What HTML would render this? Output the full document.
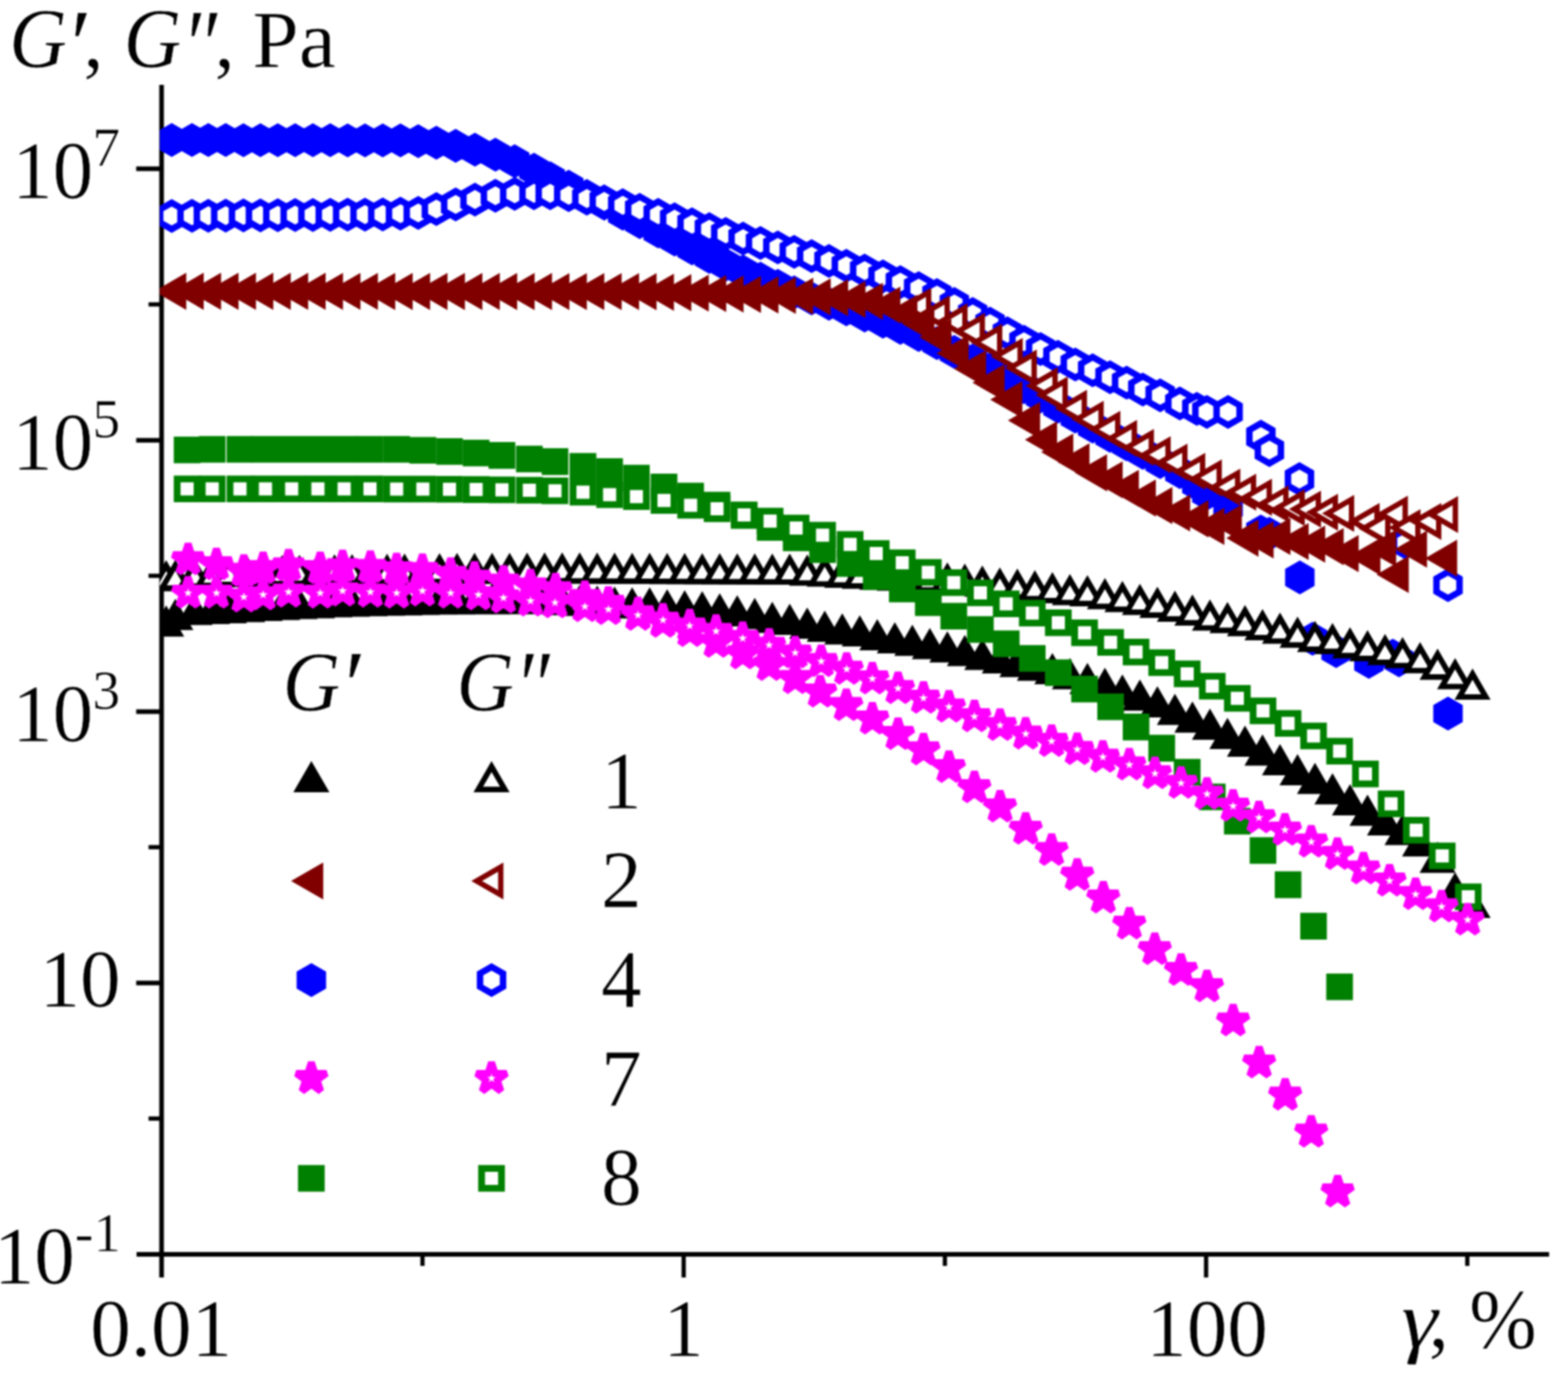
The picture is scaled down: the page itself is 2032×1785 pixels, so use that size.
<!DOCTYPE html>
<html lang="en"><head><meta charset="utf-8"><title>G′, G″ vs γ</title>
<style>
html,body{margin:0;padding:0;background:#fff;}
svg{display:block;filter:blur(1px);}
text{font-family:"Liberation Serif","Times New Roman",serif;fill:#000;stroke:#fff;stroke-width:0.6px;}
.i{font-style:italic;}
</style></head>
<body>
<svg xmlns="http://www.w3.org/2000/svg" width="2032" height="1785" viewBox="0 0 2032 1785">
<rect width="2032" height="1785" fill="#fff"/>
<g stroke="#000" fill="none">
<line x1="209.4" y1="110" x2="209.4" y2="1656" stroke-width="6"/>
<line x1="177" y1="1626" x2="2007.5" y2="1626" stroke-width="6"/>
<line x1="176.5" y1="218.7" x2="209" y2="218.7" stroke-width="6"/>
<line x1="176.5" y1="570.7" x2="209" y2="570.7" stroke-width="6"/>
<line x1="176.5" y1="922.5" x2="209" y2="922.5" stroke-width="6"/>
<line x1="176.5" y1="1274.3" x2="209" y2="1274.3" stroke-width="6"/>
<line x1="192.5" y1="394.6" x2="209" y2="394.6" stroke-width="5.5"/>
<line x1="192.5" y1="746.4" x2="209" y2="746.4" stroke-width="5.5"/>
<line x1="192.5" y1="1098.2" x2="209" y2="1098.2" stroke-width="5.5"/>
<line x1="192.5" y1="1450" x2="209" y2="1450" stroke-width="5.5"/>
<line x1="886" y1="1626" x2="886" y2="1656" stroke-width="5.5"/>
<line x1="1563" y1="1626" x2="1563" y2="1656" stroke-width="5.5"/>
<line x1="547.5" y1="1626" x2="547.5" y2="1641" stroke-width="5.5"/>
<line x1="1224.5" y1="1626" x2="1224.5" y2="1641" stroke-width="5.5"/>
<line x1="1901.5" y1="1626" x2="1901.5" y2="1641" stroke-width="5.5"/>
</g>
<clipPath id="c"><rect x="207.2" y="100" width="1825" height="1523"/></clipPath>
<g clip-path="url(#c)">
<g><polygon points="222.5,159.5 241.6,170.5 241.6,192.5 222.5,203.5 203.4,192.5 203.4,170.5" fill="#0000ff"/><polygon points="248.8,159.5 267.8,170.5 267.8,192.5 248.8,203.5 229.7,192.5 229.7,170.5" fill="#0000ff"/><polygon points="270,159.6 289.1,170.6 289.1,192.6 270,203.6 250.9,192.6 250.9,170.6" fill="#0000ff"/><polygon points="292.5,159.6 311.6,170.6 311.6,192.6 292.5,203.6 273.4,192.6 273.4,170.6" fill="#0000ff"/><polygon points="315.5,159.7 334.6,170.7 334.6,192.7 315.5,203.7 296.4,192.7 296.4,170.7" fill="#0000ff"/><polygon points="337.5,159.7 356.6,170.7 356.6,192.7 337.5,203.7 318.4,192.7 318.4,170.7" fill="#0000ff"/><polygon points="360,159.7 379.1,170.7 379.1,192.7 360,203.7 340.9,192.7 340.9,170.7" fill="#0000ff"/><polygon points="382.5,159.8 401.6,170.8 401.6,192.8 382.5,203.8 363.4,192.8 363.4,170.8" fill="#0000ff"/><polygon points="405.5,159.8 424.6,170.8 424.6,192.8 405.5,203.8 386.4,192.8 386.4,170.8" fill="#0000ff"/><polygon points="428,159.8 447.1,170.8 447.1,192.8 428,203.8 408.9,192.8 408.9,170.8" fill="#0000ff"/><polygon points="450.5,159.9 469.6,170.9 469.6,192.9 450.5,203.9 431.4,192.9 431.4,170.9" fill="#0000ff"/><polygon points="473,159.9 492.1,170.9 492.1,192.9 473,203.9 453.9,192.9 453.9,170.9" fill="#0000ff"/><polygon points="496,160 515.1,171 515.1,193 496,204 476.9,193 476.9,171" fill="#0000ff"/><polygon points="519,160 538.1,171 538.1,193 519,204 499.9,193 499.9,171" fill="#0000ff"/><polygon points="542,161 561.1,172 561.1,194 542,205 522.9,194 522.9,172" fill="#0000ff"/><polygon points="565.5,163 584.6,174 584.6,196 565.5,207 546.4,196 546.4,174" fill="#0000ff"/><polygon points="590.5,167 609.6,178 609.6,200 590.5,211 571.4,200 571.4,178" fill="#0000ff"/><polygon points="615.5,172 634.6,183 634.6,205 615.5,216 596.4,205 596.4,183" fill="#0000ff"/><polygon points="642,178.5 661.1,189.5 661.1,211.5 642,222.5 622.9,211.5 622.9,189.5" fill="#0000ff"/><polygon points="667,187 686.1,198 686.1,220 667,231 647.9,220 647.9,198" fill="#0000ff"/><polygon points="692,198 711.1,209 711.1,231 692,242 672.9,231 672.9,209" fill="#0000ff"/><polygon points="713,209 732.1,220 732.1,242 713,253 693.9,242 693.9,220" fill="#0000ff"/><polygon points="737,220 756.1,231 756.1,253 737,264 717.9,253 717.9,231" fill="#0000ff"/><polygon points="760.5,232 779.6,243 779.6,265 760.5,276 741.4,265 741.4,243" fill="#0000ff"/><polygon points="783,242 802.1,253 802.1,275 783,286 763.9,275 763.9,253" fill="#0000ff"/><polygon points="807,255 826.1,266 826.1,288 807,299 787.9,288 787.9,266" fill="#0000ff"/><polygon points="829,266 848.1,277 848.1,299 829,310 809.9,299 809.9,277" fill="#0000ff"/><polygon points="853,278 872.1,289 872.1,311 853,322 833.9,311 833.9,289" fill="#0000ff"/><polygon points="874.2,288.6 893.3,299.6 893.3,321.6 874.2,332.6 855.2,321.6 855.2,299.6" fill="#0000ff"/><polygon points="896.8,299.9 915.8,310.9 915.8,332.9 896.8,343.9 877.7,332.9 877.7,310.9" fill="#0000ff"/><polygon points="919.2,311.1 938.3,322.1 938.3,344.1 919.2,355.1 900.2,344.1 900.2,322.1" fill="#0000ff"/><polygon points="940.5,321 959.6,332 959.6,354 940.5,365 921.4,354 921.4,332" fill="#0000ff"/><polygon points="963,330.1 982.1,341.1 982.1,363.1 963,374.1 943.9,363.1 943.9,341.1" fill="#0000ff"/><polygon points="985.5,339.2 1004.6,350.2 1004.6,372.2 985.5,383.2 966.4,372.2 966.4,350.2" fill="#0000ff"/><polygon points="1008,348.4 1027.1,359.4 1027.1,381.4 1008,392.4 988.9,381.4 988.9,359.4" fill="#0000ff"/><polygon points="1029.2,357 1048.3,368 1048.3,390 1029.2,401 1010.2,390 1010.2,368" fill="#0000ff"/><polygon points="1051.8,364.8 1070.8,375.8 1070.8,397.8 1051.8,408.8 1032.7,397.8 1032.7,375.8" fill="#0000ff"/><polygon points="1074.2,371.8 1093.3,382.8 1093.3,404.8 1074.2,415.8 1055.2,404.8 1055.2,382.8" fill="#0000ff"/><polygon points="1096.8,379 1115.8,390 1115.8,412 1096.8,423 1077.7,412 1077.7,390" fill="#0000ff"/><polygon points="1120.5,386.9 1139.6,397.9 1139.6,419.9 1120.5,430.9 1101.4,419.9 1101.4,397.9" fill="#0000ff"/><polygon points="1144.2,395.1 1163.3,406.1 1163.3,428.1 1144.2,439.1 1125.2,428.1 1125.2,406.1" fill="#0000ff"/><polygon points="1166.8,403.1 1185.8,414.1 1185.8,436.1 1166.8,447.1 1147.7,436.1 1147.7,414.1" fill="#0000ff"/><polygon points="1190.5,412.2 1209.6,423.2 1209.6,445.2 1190.5,456.2 1171.4,445.2 1171.4,423.2" fill="#0000ff"/><polygon points="1214.2,422.7 1233.3,433.7 1233.3,455.7 1214.2,466.7 1195.2,455.7 1195.2,433.7" fill="#0000ff"/><polygon points="1236.8,434.3 1255.8,445.3 1255.8,467.3 1236.8,478.3 1217.7,467.3 1217.7,445.3" fill="#0000ff"/><polygon points="1260.5,445.2 1279.6,456.2 1279.6,478.2 1260.5,489.2 1241.4,478.2 1241.4,456.2" fill="#0000ff"/><polygon points="1283,456.5 1302.1,467.5 1302.1,489.5 1283,500.5 1263.9,489.5 1263.9,467.5" fill="#0000ff"/><polygon points="1305.5,468.3 1324.6,479.3 1324.6,501.3 1305.5,512.3 1286.4,501.3 1286.4,479.3" fill="#0000ff"/><polygon points="1327,480 1346.1,491 1346.1,513 1327,524 1307.9,513 1307.9,491" fill="#0000ff"/><polygon points="1348.5,492 1367.6,503 1367.6,525 1348.5,536 1329.4,525 1329.4,503" fill="#0000ff"/><polygon points="1371,505 1390.1,516 1390.1,538 1371,549 1351.9,538 1351.9,516" fill="#0000ff"/><polygon points="1393.5,518 1412.6,529 1412.6,551 1393.5,562 1374.4,551 1374.4,529" fill="#0000ff"/><polygon points="1416,531 1435.1,542 1435.1,564 1416,575 1396.9,564 1396.9,542" fill="#0000ff"/><polygon points="1438.5,543 1457.6,554 1457.6,576 1438.5,587 1419.4,576 1419.4,554" fill="#0000ff"/><polygon points="1460,554 1479.1,565 1479.1,587 1460,598 1440.9,587 1440.9,565" fill="#0000ff"/><polygon points="1481,565 1500.1,576 1500.1,598 1481,609 1461.9,598 1461.9,576" fill="#0000ff"/><polygon points="1503.5,577 1522.6,588 1522.6,610 1503.5,621 1484.4,610 1484.4,588" fill="#0000ff"/><polygon points="1529,590 1548.1,601 1548.1,623 1529,634 1509.9,623 1509.9,601" fill="#0000ff"/><polygon points="1551,606 1570.1,617 1570.1,639 1551,650 1531.9,639 1531.9,617" fill="#0000ff"/><polygon points="1564,618 1583.1,629 1583.1,651 1564,662 1544.9,651 1544.9,629" fill="#0000ff"/><polygon points="1591.5,636 1610.6,647 1610.6,669 1591.5,680 1572.4,669 1572.4,647" fill="#0000ff"/><polygon points="1634,667 1653.1,678 1653.1,700 1634,711 1614.9,700 1614.9,678" fill="#0000ff"/><polygon points="1645,670 1664.1,681 1664.1,703 1645,714 1625.9,703 1625.9,681" fill="#0000ff"/><polygon points="1684.5,726.5 1703.6,737.5 1703.6,759.5 1684.5,770.5 1665.4,759.5 1665.4,737.5" fill="#0000ff"/><polygon points="1701,806 1720.1,817 1720.1,839 1701,850 1681.9,839 1681.9,817" fill="#0000ff"/><polygon points="1731.5,822 1750.6,833 1750.6,855 1731.5,866 1712.4,855 1712.4,833" fill="#0000ff"/><polygon points="1774,836 1793.1,847 1793.1,869 1774,880 1754.9,869 1754.9,847" fill="#0000ff"/><polygon points="1805,828 1824.1,839 1824.1,861 1805,872 1785.9,861 1785.9,839" fill="#0000ff"/><polygon points="1813,834 1832.1,845 1832.1,867 1813,878 1793.9,867 1793.9,845" fill="#0000ff"/><polygon points="1876.5,903 1895.6,914 1895.6,936 1876.5,947 1857.4,936 1857.4,914" fill="#0000ff"/></g>
<g><polygon points="222.5,258 241.6,269 241.6,291 222.5,302 203.4,291 203.4,269" fill="#0000ff"/><polygon points="222.5,267.7 233.2,273.8 233.2,286.2 222.5,292.3 211.8,286.2 211.8,273.8" fill="#fff"/><polygon points="248.8,257.8 267.8,268.8 267.8,290.8 248.8,301.8 229.7,290.8 229.7,268.8" fill="#0000ff"/><polygon points="248.8,267.5 259.4,273.6 259.4,286 248.8,292.1 238.1,286 238.1,273.6" fill="#fff"/><polygon points="270,257.7 289.1,268.7 289.1,290.7 270,301.7 250.9,290.7 250.9,268.7" fill="#0000ff"/><polygon points="270,267.3 280.7,273.5 280.7,285.8 270,292 259.3,285.8 259.3,273.5" fill="#fff"/><polygon points="292.5,257.5 311.6,268.5 311.6,290.5 292.5,301.5 273.4,290.5 273.4,268.5" fill="#0000ff"/><polygon points="292.5,267.2 303.2,273.3 303.2,285.6 292.5,291.8 281.8,285.6 281.8,273.3" fill="#fff"/><polygon points="315.5,257.3 334.6,268.3 334.6,290.3 315.5,301.3 296.4,290.3 296.4,268.3" fill="#0000ff"/><polygon points="315.5,267 326.2,273.2 326.2,285.5 315.5,291.6 304.8,285.5 304.8,273.2" fill="#fff"/><polygon points="337.5,257.2 356.6,268.2 356.6,290.2 337.5,301.2 318.4,290.2 318.4,268.2" fill="#0000ff"/><polygon points="337.5,266.8 348.2,273 348.2,285.3 337.5,291.5 326.8,285.3 326.8,273" fill="#fff"/><polygon points="360,257 379.1,268 379.1,290 360,301 340.9,290 340.9,268" fill="#0000ff"/><polygon points="360,266.7 370.7,272.8 370.7,285.2 360,291.3 349.3,285.2 349.3,272.8" fill="#fff"/><polygon points="382.5,256.8 401.6,267.8 401.6,289.8 382.5,300.8 363.4,289.8 363.4,267.8" fill="#0000ff"/><polygon points="382.5,266.5 393.2,272.7 393.2,285 382.5,291.1 371.8,285 371.8,272.7" fill="#fff"/><polygon points="405.5,256.7 424.6,267.7 424.6,289.7 405.5,300.7 386.4,289.7 386.4,267.7" fill="#0000ff"/><polygon points="405.5,266.3 416.2,272.5 416.2,284.8 405.5,291 394.8,284.8 394.8,272.5" fill="#fff"/><polygon points="428,256.5 447.1,267.5 447.1,289.5 428,300.5 408.9,289.5 408.9,267.5" fill="#0000ff"/><polygon points="428,266.2 438.7,272.3 438.7,284.7 428,290.8 417.3,284.7 417.3,272.3" fill="#fff"/><polygon points="450.5,256.3 469.6,267.3 469.6,289.3 450.5,300.3 431.4,289.3 431.4,267.3" fill="#0000ff"/><polygon points="450.5,266 461.2,272.2 461.2,284.5 450.5,290.7 439.8,284.5 439.8,272.2" fill="#fff"/><polygon points="473,256.2 492.1,267.2 492.1,289.2 473,300.2 453.9,289.2 453.9,267.2" fill="#0000ff"/><polygon points="473,265.8 483.7,272 483.7,284.3 473,290.5 462.3,284.3 462.3,272" fill="#fff"/><polygon points="496,256 515.1,267 515.1,289 496,300 476.9,289 476.9,267" fill="#0000ff"/><polygon points="496,265.7 506.7,271.8 506.7,284.2 496,290.3 485.3,284.2 485.3,271.8" fill="#fff"/><polygon points="519,255 538.1,266 538.1,288 519,299 499.9,288 499.9,266" fill="#0000ff"/><polygon points="519,264.7 529.7,270.8 529.7,283.2 519,289.3 508.3,283.2 508.3,270.8" fill="#fff"/><polygon points="542,254 561.1,265 561.1,287 542,298 522.9,287 522.9,265" fill="#0000ff"/><polygon points="542,263.7 552.7,269.8 552.7,282.2 542,288.3 531.3,282.2 531.3,269.8" fill="#fff"/><polygon points="565.5,249 584.6,260 584.6,282 565.5,293 546.4,282 546.4,260" fill="#0000ff"/><polygon points="565.5,258.7 576.2,264.8 576.2,277.2 565.5,283.3 554.8,277.2 554.8,264.8" fill="#fff"/><polygon points="590.5,243 609.6,254 609.6,276 590.5,287 571.4,276 571.4,254" fill="#0000ff"/><polygon points="590.5,252.7 601.2,258.8 601.2,271.2 590.5,277.3 579.8,271.2 579.8,258.8" fill="#fff"/><polygon points="615.5,236.7 634.6,247.7 634.6,269.7 615.5,280.7 596.4,269.7 596.4,247.7" fill="#0000ff"/><polygon points="615.5,246.3 626.2,252.5 626.2,264.8 615.5,271 604.8,264.8 604.8,252.5" fill="#fff"/><polygon points="642,231.7 661.1,242.7 661.1,264.7 642,275.7 622.9,264.7 622.9,242.7" fill="#0000ff"/><polygon points="642,241.4 652.7,247.5 652.7,259.8 642,266 631.3,259.8 631.3,247.5" fill="#fff"/><polygon points="667,229.2 686.1,240.2 686.1,262.2 667,273.2 647.9,262.2 647.9,240.2" fill="#0000ff"/><polygon points="667,238.9 677.7,245.1 677.7,257.4 667,263.6 656.3,257.4 656.3,245.1" fill="#fff"/><polygon points="692,228.6 711.1,239.6 711.1,261.6 692,272.6 672.9,261.6 672.9,239.6" fill="#0000ff"/><polygon points="692,238.3 702.7,244.4 702.7,256.8 692,262.9 681.3,256.8 681.3,244.4" fill="#fff"/><polygon points="713,228.6 732.1,239.6 732.1,261.6 713,272.6 693.9,261.6 693.9,239.6" fill="#0000ff"/><polygon points="713,238.3 723.7,244.4 723.7,256.8 713,262.9 702.3,256.8 702.3,244.4" fill="#fff"/><polygon points="737,231 756.1,242 756.1,264 737,275 717.9,264 717.9,242" fill="#0000ff"/><polygon points="737,240.7 747.7,246.9 747.7,259.2 737,265.4 726.3,259.2 726.3,246.9" fill="#fff"/><polygon points="760.5,235.4 779.6,246.4 779.6,268.4 760.5,279.4 741.4,268.4 741.4,246.4" fill="#0000ff"/><polygon points="760.5,245 771.2,251.2 771.2,263.5 760.5,269.7 749.8,263.5 749.8,251.2" fill="#fff"/><polygon points="783,239.1 802.1,250.1 802.1,272.1 783,283.1 763.9,272.1 763.9,250.1" fill="#0000ff"/><polygon points="783,248.8 793.7,255 793.7,267.3 783,273.4 772.3,267.3 772.3,255" fill="#fff"/><polygon points="807,244.1 826.1,255.1 826.1,277.1 807,288.1 787.9,277.1 787.9,255.1" fill="#0000ff"/><polygon points="807,253.8 817.7,260 817.7,272.3 807,278.5 796.3,272.3 796.3,260" fill="#fff"/><polygon points="829,250 848.1,261 848.1,283 829,294 809.9,283 809.9,261" fill="#0000ff"/><polygon points="829,259.7 839.7,265.8 839.7,278.2 829,284.3 818.3,278.2 818.3,265.8" fill="#fff"/><polygon points="853,256.4 872.1,267.4 872.1,289.4 853,300.4 833.9,289.4 833.9,267.4" fill="#0000ff"/><polygon points="853,266.1 863.7,272.3 863.7,284.6 853,290.7 842.3,284.6 842.3,272.3" fill="#fff"/><polygon points="874.2,262.2 893.3,273.2 893.3,295.2 874.2,306.2 855.2,295.2 855.2,273.2" fill="#0000ff"/><polygon points="874.2,271.8 884.9,278 884.9,290.3 874.2,296.5 863.6,290.3 863.6,278" fill="#fff"/><polygon points="896.8,268.8 915.8,279.8 915.8,301.8 896.8,312.8 877.7,301.8 877.7,279.8" fill="#0000ff"/><polygon points="896.8,278.4 907.4,284.6 907.4,296.9 896.8,303.1 886.1,296.9 886.1,284.6" fill="#fff"/><polygon points="919.2,275 938.3,286 938.3,308 919.2,319 900.2,308 900.2,286" fill="#0000ff"/><polygon points="919.2,284.7 929.9,290.8 929.9,303.2 919.2,309.3 908.6,303.2 908.6,290.8" fill="#fff"/><polygon points="940.5,281.2 959.6,292.2 959.6,314.2 940.5,325.2 921.4,314.2 921.4,292.2" fill="#0000ff"/><polygon points="940.5,290.9 951.2,297.1 951.2,309.4 940.5,315.6 929.8,309.4 929.8,297.1" fill="#fff"/><polygon points="963,287.3 982.1,298.3 982.1,320.3 963,331.3 943.9,320.3 943.9,298.3" fill="#0000ff"/><polygon points="963,297 973.7,303.2 973.7,315.5 963,321.7 952.3,315.5 952.3,303.2" fill="#fff"/><polygon points="985.5,293.1 1004.6,304.1 1004.6,326.1 985.5,337.1 966.4,326.1 966.4,304.1" fill="#0000ff"/><polygon points="985.5,302.8 996.2,308.9 996.2,321.3 985.5,327.4 974.8,321.3 974.8,308.9" fill="#fff"/><polygon points="1008,298.8 1027.1,309.8 1027.1,331.8 1008,342.8 988.9,331.8 988.9,309.8" fill="#0000ff"/><polygon points="1008,308.4 1018.7,314.6 1018.7,326.9 1008,333.1 997.3,326.9 997.3,314.6" fill="#fff"/><polygon points="1029.2,304.4 1048.3,315.4 1048.3,337.4 1029.2,348.4 1010.2,337.4 1010.2,315.4" fill="#0000ff"/><polygon points="1029.2,314.1 1039.9,320.2 1039.9,332.6 1029.2,338.7 1018.6,332.6 1018.6,320.2" fill="#fff"/><polygon points="1051.8,310 1070.8,321 1070.8,343 1051.8,354 1032.7,343 1032.7,321" fill="#0000ff"/><polygon points="1051.8,319.7 1062.4,325.8 1062.4,338.2 1051.8,344.3 1041.1,338.2 1041.1,325.8" fill="#fff"/><polygon points="1074.2,316.2 1093.3,327.2 1093.3,349.2 1074.2,360.2 1055.2,349.2 1055.2,327.2" fill="#0000ff"/><polygon points="1074.2,325.9 1084.9,332.1 1084.9,344.4 1074.2,350.6 1063.6,344.4 1063.6,332.1" fill="#fff"/><polygon points="1096.8,322.5 1115.8,333.5 1115.8,355.5 1096.8,366.5 1077.7,355.5 1077.7,333.5" fill="#0000ff"/><polygon points="1096.8,332.2 1107.4,338.3 1107.4,350.7 1096.8,356.8 1086.1,350.7 1086.1,338.3" fill="#fff"/><polygon points="1120.5,328.8 1139.6,339.8 1139.6,361.8 1120.5,372.8 1101.4,361.8 1101.4,339.8" fill="#0000ff"/><polygon points="1120.5,338.4 1131.2,344.6 1131.2,356.9 1120.5,363.1 1109.8,356.9 1109.8,344.6" fill="#fff"/><polygon points="1144.2,336.2 1163.3,347.2 1163.3,369.2 1144.2,380.2 1125.2,369.2 1125.2,347.2" fill="#0000ff"/><polygon points="1144.2,345.9 1154.9,352.1 1154.9,364.4 1144.2,370.6 1133.6,364.4 1133.6,352.1" fill="#fff"/><polygon points="1166.8,343.8 1185.8,354.8 1185.8,376.8 1166.8,387.8 1147.7,376.8 1147.7,354.8" fill="#0000ff"/><polygon points="1166.8,353.4 1177.4,359.6 1177.4,371.9 1166.8,378.1 1156.1,371.9 1156.1,359.6" fill="#fff"/><polygon points="1190.5,351.5 1209.6,362.5 1209.6,384.5 1190.5,395.5 1171.4,384.5 1171.4,362.5" fill="#0000ff"/><polygon points="1190.5,361.2 1201.2,367.3 1201.2,379.7 1190.5,385.8 1179.8,379.7 1179.8,367.3" fill="#fff"/><polygon points="1214.2,360.5 1233.3,371.5 1233.3,393.5 1214.2,404.5 1195.2,393.5 1195.2,371.5" fill="#0000ff"/><polygon points="1214.2,370.2 1224.9,376.3 1224.9,388.7 1214.2,394.8 1203.6,388.7 1203.6,376.3" fill="#fff"/><polygon points="1236.8,372 1255.8,383 1255.8,405 1236.8,416 1217.7,405 1217.7,383" fill="#0000ff"/><polygon points="1236.8,381.7 1247.4,387.8 1247.4,400.2 1236.8,406.3 1226.1,400.2 1226.1,387.8" fill="#fff"/><polygon points="1260.5,385 1279.6,396 1279.6,418 1260.5,429 1241.4,418 1241.4,396" fill="#0000ff"/><polygon points="1260.5,394.7 1271.2,400.8 1271.2,413.2 1260.5,419.3 1249.8,413.2 1249.8,400.8" fill="#fff"/><polygon points="1283,397.5 1302.1,408.5 1302.1,430.5 1283,441.5 1263.9,430.5 1263.9,408.5" fill="#0000ff"/><polygon points="1283,407.2 1293.7,413.3 1293.7,425.7 1283,431.8 1272.3,425.7 1272.3,413.3" fill="#fff"/><polygon points="1305.5,410 1324.6,421 1324.6,443 1305.5,454 1286.4,443 1286.4,421" fill="#0000ff"/><polygon points="1305.5,419.7 1316.2,425.8 1316.2,438.2 1305.5,444.3 1294.8,438.2 1294.8,425.8" fill="#fff"/><polygon points="1327,421 1346.1,432 1346.1,454 1327,465 1307.9,454 1307.9,432" fill="#0000ff"/><polygon points="1327,430.7 1337.7,436.8 1337.7,449.2 1327,455.3 1316.3,449.2 1316.3,436.8" fill="#fff"/><polygon points="1348.5,430.5 1367.6,441.5 1367.6,463.5 1348.5,474.5 1329.4,463.5 1329.4,441.5" fill="#0000ff"/><polygon points="1348.5,440.2 1359.2,446.3 1359.2,458.7 1348.5,464.8 1337.8,458.7 1337.8,446.3" fill="#fff"/><polygon points="1371,440.5 1390.1,451.5 1390.1,473.5 1371,484.5 1351.9,473.5 1351.9,451.5" fill="#0000ff"/><polygon points="1371,450.2 1381.7,456.3 1381.7,468.7 1371,474.8 1360.3,468.7 1360.3,456.3" fill="#fff"/><polygon points="1393.5,450.5 1412.6,461.5 1412.6,483.5 1393.5,494.5 1374.4,483.5 1374.4,461.5" fill="#0000ff"/><polygon points="1393.5,460.2 1404.2,466.3 1404.2,478.7 1393.5,484.8 1382.8,478.7 1382.8,466.3" fill="#fff"/><polygon points="1416,458 1435.1,469 1435.1,491 1416,502 1396.9,491 1396.9,469" fill="#0000ff"/><polygon points="1416,467.7 1426.7,473.8 1426.7,486.2 1416,492.3 1405.3,486.2 1405.3,473.8" fill="#fff"/><polygon points="1438.5,467 1457.6,478 1457.6,500 1438.5,511 1419.4,500 1419.4,478" fill="#0000ff"/><polygon points="1438.5,476.7 1449.2,482.8 1449.2,495.2 1438.5,501.3 1427.8,495.2 1427.8,482.8" fill="#fff"/><polygon points="1460,474 1479.1,485 1479.1,507 1460,518 1440.9,507 1440.9,485" fill="#0000ff"/><polygon points="1460,483.7 1470.7,489.8 1470.7,502.2 1460,508.3 1449.3,502.2 1449.3,489.8" fill="#fff"/><polygon points="1481,483 1500.1,494 1500.1,516 1481,527 1461.9,516 1461.9,494" fill="#0000ff"/><polygon points="1481,492.7 1491.7,498.8 1491.7,511.2 1481,517.3 1470.3,511.2 1470.3,498.8" fill="#fff"/><polygon points="1503.5,490.5 1522.6,501.5 1522.6,523.5 1503.5,534.5 1484.4,523.5 1484.4,501.5" fill="#0000ff"/><polygon points="1503.5,500.2 1514.2,506.3 1514.2,518.7 1503.5,524.8 1492.8,518.7 1492.8,506.3" fill="#fff"/><polygon points="1529,501 1548.1,512 1548.1,534 1529,545 1509.9,534 1509.9,512" fill="#0000ff"/><polygon points="1529,510.7 1539.7,516.8 1539.7,529.2 1529,535.3 1518.3,529.2 1518.3,516.8" fill="#fff"/><polygon points="1551,508 1570.1,519 1570.1,541 1551,552 1531.9,541 1531.9,519" fill="#0000ff"/><polygon points="1551,517.7 1561.7,523.8 1561.7,536.2 1551,542.3 1540.3,536.2 1540.3,523.8" fill="#fff"/><polygon points="1564,512 1583.1,523 1583.1,545 1564,556 1544.9,545 1544.9,523" fill="#0000ff"/><polygon points="1564,521.7 1574.7,527.8 1574.7,540.2 1564,546.3 1553.3,540.2 1553.3,527.8" fill="#fff"/><polygon points="1591.5,512 1610.6,523 1610.6,545 1591.5,556 1572.4,545 1572.4,523" fill="#0000ff"/><polygon points="1591.5,521.7 1602.2,527.8 1602.2,540.2 1591.5,546.3 1580.8,540.2 1580.8,527.8" fill="#fff"/><polygon points="1634,544 1653.1,555 1653.1,577 1634,588 1614.9,577 1614.9,555" fill="#0000ff"/><polygon points="1634,553.7 1644.7,559.8 1644.7,572.2 1634,578.3 1623.3,572.2 1623.3,559.8" fill="#fff"/><polygon points="1645,561.5 1664.1,572.5 1664.1,594.5 1645,605.5 1625.9,594.5 1625.9,572.5" fill="#0000ff"/><polygon points="1645,571.2 1655.7,577.3 1655.7,589.7 1645,595.8 1634.3,589.7 1634.3,577.3" fill="#fff"/><polygon points="1684,599 1703.1,610 1703.1,632 1684,643 1664.9,632 1664.9,610" fill="#0000ff"/><polygon points="1684,608.7 1694.7,614.8 1694.7,627.2 1684,633.3 1673.3,627.2 1673.3,614.8" fill="#fff"/><polygon points="1821.5,681.5 1840.6,692.5 1840.6,714.5 1821.5,725.5 1802.4,714.5 1802.4,692.5" fill="#0000ff"/><polygon points="1821.5,691.2 1832.2,697.3 1832.2,709.7 1821.5,715.8 1810.8,709.7 1810.8,697.3" fill="#fff"/><polygon points="1876.5,736.5 1895.6,747.5 1895.6,769.5 1876.5,780.5 1857.4,769.5 1857.4,747.5" fill="#0000ff"/><polygon points="1876.5,746.2 1887.2,752.3 1887.2,764.7 1876.5,770.8 1865.8,764.7 1865.8,752.3" fill="#fff"/></g>
<g><polygon points="1165.2,397 1206.9,372.9 1206.9,421.1" fill="#800000"/><polygon points="1179.1,397 1200,385 1200,409" fill="#fff"/><polygon points="1189.2,407 1230.9,382.9 1230.9,431.1" fill="#800000"/><polygon points="1203.1,407 1224,395 1224,419" fill="#fff"/><polygon points="1212.2,417 1253.9,392.9 1253.9,441.1" fill="#800000"/><polygon points="1226.1,417 1247,405 1247,429" fill="#fff"/><polygon points="1234.7,429.5 1276.4,405.4 1276.4,453.6" fill="#800000"/><polygon points="1248.6,429.5 1269.5,417.5 1269.5,441.5" fill="#fff"/><polygon points="1257.2,443.5 1298.9,419.4 1298.9,467.6" fill="#800000"/><polygon points="1271.1,443.5 1292,431.5 1292,455.5" fill="#fff"/><polygon points="1283.7,462 1325.4,437.9 1325.4,486.1" fill="#800000"/><polygon points="1297.6,462 1318.5,450 1318.5,474" fill="#fff"/><polygon points="1301.9,477 1343.6,452.9 1343.6,501.1" fill="#800000"/><polygon points="1315.8,477 1336.7,465 1336.7,489" fill="#fff"/><polygon points="1329,500 1370.7,475.9 1370.7,524.1" fill="#800000"/><polygon points="1342.9,500 1363.8,488 1363.8,512" fill="#fff"/><polygon points="1342,512 1383.7,487.9 1383.7,536.1" fill="#800000"/><polygon points="1355.9,512 1376.8,500 1376.8,524" fill="#fff"/><polygon points="1366.9,529.4 1408.6,505.3 1408.6,553.5" fill="#800000"/><polygon points="1380.8,529.4 1401.7,517.4 1401.7,541.4" fill="#fff"/><polygon points="1388.6,543.5 1430.3,519.4 1430.3,567.6" fill="#800000"/><polygon points="1402.5,543.5 1423.4,531.5 1423.4,555.5" fill="#fff"/><polygon points="1410.2,556.5 1451.9,532.4 1451.9,580.6" fill="#800000"/><polygon points="1424.1,556.5 1445,544.5 1445,568.5" fill="#fff"/><polygon points="1431.8,568.4 1473.5,544.3 1473.5,592.5" fill="#800000"/><polygon points="1445.7,568.4 1466.5,556.4 1466.5,580.4" fill="#fff"/><polygon points="1453.7,580 1495.4,555.9 1495.4,604.1" fill="#800000"/><polygon points="1467.6,580 1488.5,568 1488.5,592" fill="#fff"/><polygon points="1475.4,589.6 1517.1,565.5 1517.1,613.7" fill="#800000"/><polygon points="1489.3,589.6 1510.2,577.6 1510.2,601.6" fill="#fff"/><polygon points="1497.2,599 1538.9,574.9 1538.9,623.1" fill="#800000"/><polygon points="1511.1,599 1532,587 1532,611" fill="#fff"/><polygon points="1520.2,611 1561.9,586.9 1561.9,635.1" fill="#800000"/><polygon points="1534.1,611 1555,599 1555,623" fill="#fff"/><polygon points="1541.7,619.6 1583.4,595.5 1583.4,643.7" fill="#800000"/><polygon points="1555.6,619.6 1576.5,607.6 1576.5,631.6" fill="#fff"/><polygon points="1565.6,631.6 1607.3,607.5 1607.3,655.7" fill="#800000"/><polygon points="1579.5,631.6 1600.4,619.6 1600.4,643.6" fill="#fff"/><polygon points="1586.2,638 1627.9,613.9 1627.9,662.1" fill="#800000"/><polygon points="1600.1,638 1621,626 1621,650" fill="#fff"/><polygon points="1606.6,644.6 1648.3,620.5 1648.3,668.7" fill="#800000"/><polygon points="1620.5,644.6 1641.4,632.6 1641.4,656.6" fill="#fff"/><polygon points="1628.2,653 1669.9,628.9 1669.9,677.1" fill="#800000"/><polygon points="1642.1,653 1663,641 1663,665" fill="#fff"/><polygon points="1649.2,658 1690.9,633.9 1690.9,682.1" fill="#800000"/><polygon points="1663.1,658 1684,646 1684,670" fill="#fff"/><polygon points="1670.2,660 1711.9,635.9 1711.9,684.1" fill="#800000"/><polygon points="1684.1,660 1705,648 1705,672" fill="#fff"/><polygon points="1692.2,664 1733.9,639.9 1733.9,688.1" fill="#800000"/><polygon points="1706.1,664 1727,652 1727,676" fill="#fff"/><polygon points="1713.2,665.5 1754.9,641.4 1754.9,689.6" fill="#800000"/><polygon points="1727.1,665.5 1748,653.5 1748,677.5" fill="#fff"/><polygon points="1746.2,676 1787.9,651.9 1787.9,700.1" fill="#800000"/><polygon points="1760.1,676 1781,664 1781,688" fill="#fff"/><polygon points="1760.2,685 1801.9,660.9 1801.9,709.1" fill="#800000"/><polygon points="1774.1,685 1795,673 1795,697" fill="#fff"/><polygon points="1782.8,666.5 1824.5,642.4 1824.5,690.6" fill="#800000"/><polygon points="1796.7,666.5 1817.5,654.5 1817.5,678.5" fill="#fff"/><polygon points="1799.2,684 1840.9,659.9 1840.9,708.1" fill="#800000"/><polygon points="1813.1,684 1834,672 1834,696" fill="#fff"/><polygon points="1826.2,676 1867.9,651.9 1867.9,700.1" fill="#800000"/><polygon points="1840.1,676 1861,664 1861,688" fill="#fff"/><polygon points="1847.8,667 1889.5,642.9 1889.5,691.1" fill="#800000"/><polygon points="1861.7,667 1882.5,655 1882.5,679" fill="#fff"/></g>
<g><polygon points="199.7,377.6 241.4,353.5 241.4,401.7" fill="#800000"/><polygon points="222.3,377.6 264,353.5 264,401.7" fill="#800000"/><polygon points="244.8,377.6 286.5,353.6 286.5,401.7" fill="#800000"/><polygon points="267.4,377.6 309.1,353.6 309.1,401.7" fill="#800000"/><polygon points="290,377.7 331.7,353.6 331.7,401.7" fill="#800000"/><polygon points="312.6,377.7 354.2,353.6 354.2,401.8" fill="#800000"/><polygon points="335.1,377.7 376.8,353.6 376.8,401.8" fill="#800000"/><polygon points="357.7,377.7 399.4,353.6 399.4,401.8" fill="#800000"/><polygon points="380.3,377.7 422,353.6 422,401.8" fill="#800000"/><polygon points="402.8,377.7 444.5,353.7 444.5,401.8" fill="#800000"/><polygon points="425.4,377.8 467.1,353.7 467.1,401.8" fill="#800000"/><polygon points="448,377.8 489.7,353.7 489.7,401.8" fill="#800000"/><polygon points="470.5,377.8 512.2,353.7 512.2,401.9" fill="#800000"/><polygon points="493.1,377.8 534.8,353.7 534.8,401.9" fill="#800000"/><polygon points="515.7,377.8 557.4,353.7 557.4,401.9" fill="#800000"/><polygon points="538.2,377.8 579.9,353.7 579.9,401.9" fill="#800000"/><polygon points="560.8,377.8 602.5,353.8 602.5,401.9" fill="#800000"/><polygon points="583.4,377.9 625.1,353.8 625.1,401.9" fill="#800000"/><polygon points="606,377.9 647.7,353.8 647.7,401.9" fill="#800000"/><polygon points="628.5,377.9 670.2,353.8 670.2,402" fill="#800000"/><polygon points="651.1,377.9 692.8,353.8 692.8,402" fill="#800000"/><polygon points="673.7,377.9 715.4,353.8 715.4,402" fill="#800000"/><polygon points="696.2,377.9 737.9,353.9 737.9,402" fill="#800000"/><polygon points="718.8,377.9 760.5,353.9 760.5,402" fill="#800000"/><polygon points="741.4,378 783.1,353.9 783.1,402" fill="#800000"/><polygon points="764,378 805.6,353.9 805.6,402.1" fill="#800000"/><polygon points="786.5,378 828.2,353.9 828.2,402.1" fill="#800000"/><polygon points="809.1,378.2 850.8,354.1 850.8,402.3" fill="#800000"/><polygon points="831.7,378.8 873.4,354.7 873.4,402.9" fill="#800000"/><polygon points="854.2,379.4 895.9,355.3 895.9,403.5" fill="#800000"/><polygon points="876.8,380 918.5,355.9 918.5,404" fill="#800000"/><polygon points="899.4,380.6 941.1,356.5 941.1,404.6" fill="#800000"/><polygon points="921.9,381.2 963.6,357.1 963.6,405.2" fill="#800000"/><polygon points="944.5,381.8 986.2,357.7 986.2,405.8" fill="#800000"/><polygon points="967.1,382.4 1008.8,358.3 1008.8,406.4" fill="#800000"/><polygon points="989.7,383 1031.4,358.9 1031.4,407" fill="#800000"/><polygon points="1012.2,383.9 1053.9,359.9 1053.9,408" fill="#800000"/><polygon points="1034.8,384.9 1076.5,360.8 1076.5,409" fill="#800000"/><polygon points="1057.4,385.9 1099.1,361.8 1099.1,410" fill="#800000"/><polygon points="1079.9,388.2 1121.6,364.1 1121.6,412.3" fill="#800000"/><polygon points="1102.5,390.6 1144.2,366.5 1144.2,414.7" fill="#800000"/><polygon points="1125.1,395.5 1166.8,371.5 1166.8,419.6" fill="#800000"/><polygon points="1147.2,406 1188.9,381.9 1188.9,430.1" fill="#800000"/><polygon points="1169.2,420 1210.9,395.9 1210.9,444.1" fill="#800000"/><polygon points="1191.2,437 1232.9,412.9 1232.9,461.1" fill="#800000"/><polygon points="1213.6,458 1255.3,433.9 1255.3,482.1" fill="#800000"/><polygon points="1236.2,478 1277.9,453.9 1277.9,502.1" fill="#800000"/><polygon points="1260.2,496 1301.9,471.9 1301.9,520.1" fill="#800000"/><polygon points="1283.2,518 1324.9,493.9 1324.9,542.1" fill="#800000"/><polygon points="1306.2,545 1347.9,520.9 1347.9,569.1" fill="#800000"/><polygon points="1328.2,570 1369.9,545.9 1369.9,594.1" fill="#800000"/><polygon points="1349.2,586 1390.9,561.9 1390.9,610.1" fill="#800000"/><polygon points="1370.2,598.7 1411.9,574.6 1411.9,622.8" fill="#800000"/><polygon points="1392.9,612.8 1434.6,588.7 1434.6,636.9" fill="#800000"/><polygon points="1413.2,622 1454.9,597.9 1454.9,646.1" fill="#800000"/><polygon points="1434.2,633 1475.9,608.9 1475.9,657.1" fill="#800000"/><polygon points="1456.2,645.6 1497.9,621.5 1497.9,669.7" fill="#800000"/><polygon points="1477.6,655.4 1519.3,631.3 1519.3,679.5" fill="#800000"/><polygon points="1500.6,665 1542.3,640.9 1542.3,689.1" fill="#800000"/><polygon points="1524.4,672.7 1566.1,648.6 1566.1,696.8" fill="#800000"/><polygon points="1545,682.4 1586.7,658.3 1586.7,706.5" fill="#800000"/><polygon points="1567.6,678 1609.3,653.9 1609.3,702.1" fill="#800000"/><polygon points="1589.2,697.6 1630.9,673.5 1630.9,721.7" fill="#800000"/><polygon points="1608.8,699.8 1650.5,675.7 1650.5,723.9" fill="#800000"/><polygon points="1630.6,695.4 1672.3,671.3 1672.3,719.5" fill="#800000"/><polygon points="1654.2,702 1695.9,677.9 1695.9,726.1" fill="#800000"/><polygon points="1675.6,705.3 1717.3,681.2 1717.3,729.4" fill="#800000"/><polygon points="1699.6,708.6 1741.3,684.5 1741.3,732.7" fill="#800000"/><polygon points="1719,717.7 1760.7,693.6 1760.7,741.8" fill="#800000"/><polygon points="1747.2,721.6 1788.9,697.5 1788.9,745.7" fill="#800000"/><polygon points="1767.6,710.7 1809.3,686.6 1809.3,734.8" fill="#800000"/><polygon points="1783.9,744.7 1825.6,720.6 1825.6,768.8" fill="#800000"/><polygon points="1807.6,711.8 1849.3,687.7 1849.3,735.9" fill="#800000"/><polygon points="1846.7,723.7 1888.4,699.6 1888.4,747.8" fill="#800000"/></g>
<g><polygon points="215.3,784.8 238.7,825.3 191.9,825.3" fill="#000000"/><polygon points="227.2,776.2 250.6,816.7 203.8,816.7" fill="#000000"/><polygon points="252.1,769.7 275.5,810.2 228.7,810.2" fill="#000000"/><polygon points="274.7,768.5 298.1,809 251.3,809" fill="#000000"/><polygon points="296.6,767.5 320,808 273.2,808" fill="#000000"/><polygon points="320.3,765.9 343.7,806.4 296.9,806.4" fill="#000000"/><polygon points="343,764.5 366.4,805 319.6,805" fill="#000000"/><polygon points="365.6,763.2 389,803.7 342.2,803.7" fill="#000000"/><polygon points="388.1,762.1 411.5,802.6 364.7,802.6" fill="#000000"/><polygon points="410.8,761 434.2,801.5 387.4,801.5" fill="#000000"/><polygon points="433.5,759.8 456.9,800.3 410.1,800.3" fill="#000000"/><polygon points="456.2,758.9 479.6,799.4 432.8,799.4" fill="#000000"/><polygon points="478.9,758.3 502.3,798.8 455.5,798.8" fill="#000000"/><polygon points="501.6,757.8 525,798.3 478.2,798.3" fill="#000000"/><polygon points="524.3,757.2 547.6,797.7 500.9,797.7" fill="#000000"/><polygon points="547,756.7 570.3,797.2 523.6,797.2" fill="#000000"/><polygon points="569.6,756.1 593,796.6 546.3,796.6" fill="#000000"/><polygon points="592.3,755.9 615.7,796.4 568.9,796.4" fill="#000000"/><polygon points="615,755.8 638.4,796.3 591.6,796.3" fill="#000000"/><polygon points="637.7,755.7 661.1,796.2 614.3,796.2" fill="#000000"/><polygon points="660.4,755.7 683.8,796.2 637,796.2" fill="#000000"/><polygon points="683.1,755.6 706.5,796.1 659.7,796.1" fill="#000000"/><polygon points="705.8,755.8 729.2,796.3 682.4,796.3" fill="#000000"/><polygon points="728.5,756.9 751.9,797.4 705.1,797.4" fill="#000000"/><polygon points="751.2,758 774.5,798.5 727.8,798.5" fill="#000000"/><polygon points="773.9,759.1 797.2,799.6 750.5,799.6" fill="#000000"/><polygon points="796.5,760.2 819.9,800.7 773.2,800.7" fill="#000000"/><polygon points="819.2,761.2 842.6,801.8 795.8,801.8" fill="#000000"/><polygon points="841.9,761.3 865.3,801.8 818.5,801.8" fill="#000000"/><polygon points="864.6,763.8 888,804.3 841.2,804.3" fill="#000000"/><polygon points="887.3,765 910.7,805.5 863.9,805.5" fill="#000000"/><polygon points="910,766.3 933.4,806.8 886.6,806.8" fill="#000000"/><polygon points="932.7,768.9 956.1,809.4 909.3,809.4" fill="#000000"/><polygon points="955.4,771.4 978.8,811.9 932,811.9" fill="#000000"/><polygon points="978.1,775.1 1001.4,815.6 954.7,815.6" fill="#000000"/><polygon points="1000.8,780.1 1024.1,820.6 977.4,820.6" fill="#000000"/><polygon points="1023.4,782.6 1046.8,823.1 1000.1,823.1" fill="#000000"/><polygon points="1046.1,787.6 1069.5,828.1 1022.7,828.1" fill="#000000"/><polygon points="1068.8,791.4 1092.2,831.9 1045.4,831.9" fill="#000000"/><polygon points="1091.5,795.1 1114.9,835.6 1068.1,835.6" fill="#000000"/><polygon points="1114.2,797.6 1137.6,838.1 1090.8,838.1" fill="#000000"/><polygon points="1136.9,802.6 1160.3,843.1 1113.5,843.1" fill="#000000"/><polygon points="1159.6,806.4 1183,846.9 1136.2,846.9" fill="#000000"/><polygon points="1182.3,809.8 1205.7,850.3 1158.9,850.3" fill="#000000"/><polygon points="1205,813.9 1228.3,854.4 1181.6,854.4" fill="#000000"/><polygon points="1227.7,818.3 1251,858.8 1204.3,858.8" fill="#000000"/><polygon points="1250.3,822.9 1273.7,863.4 1227,863.4" fill="#000000"/><polygon points="1273,827.9 1296.4,868.4 1249.6,868.4" fill="#000000"/><polygon points="1295.7,832.6 1319.1,873.1 1272.3,873.1" fill="#000000"/><polygon points="1318.4,837.2 1341.8,877.7 1295,877.7" fill="#000000"/><polygon points="1341.1,841.9 1364.5,882.4 1317.7,882.4" fill="#000000"/><polygon points="1363.8,846.6 1387.2,887.1 1340.4,887.1" fill="#000000"/><polygon points="1386.5,852.9 1409.9,893.4 1363.1,893.4" fill="#000000"/><polygon points="1409.2,859.3 1432.6,899.8 1385.8,899.8" fill="#000000"/><polygon points="1431.9,865.6 1455.2,906.1 1408.5,906.1" fill="#000000"/><polygon points="1454.5,874.3 1477.9,914.8 1431.2,914.8" fill="#000000"/><polygon points="1477.2,880.7 1500.6,921.2 1453.9,921.2" fill="#000000"/><polygon points="1499.9,889.4 1523.3,929.9 1476.5,929.9" fill="#000000"/><polygon points="1522.6,899.3 1546,939.8 1499.2,939.8" fill="#000000"/><polygon points="1545.3,909.2 1568.7,949.7 1521.9,949.7" fill="#000000"/><polygon points="1568,918.4 1591.4,958.9 1544.6,958.9" fill="#000000"/><polygon points="1590.7,930.4 1614.1,970.9 1567.3,970.9" fill="#000000"/><polygon points="1613.4,940.4 1636.8,980.9 1590,980.9" fill="#000000"/><polygon points="1636.1,952 1659.5,992.5 1612.7,992.5" fill="#000000"/><polygon points="1658.8,964.6 1682.1,1005.1 1635.4,1005.1" fill="#000000"/><polygon points="1681.5,977.5 1704.8,1018 1658.1,1018" fill="#000000"/><polygon points="1704.1,988.7 1727.5,1029.2 1680.8,1029.2" fill="#000000"/><polygon points="1726.8,1002.2 1750.2,1042.7 1703.4,1042.7" fill="#000000"/><polygon points="1749.5,1016.4 1772.9,1056.9 1726.1,1056.9" fill="#000000"/><polygon points="1772.2,1030.1 1795.6,1070.6 1748.8,1070.6" fill="#000000"/><polygon points="1794.9,1042.5 1818.3,1083 1771.5,1083" fill="#000000"/><polygon points="1817.6,1055.1 1841,1095.6 1794.2,1095.6" fill="#000000"/><polygon points="1840.3,1069.7 1863.7,1110.2 1816.9,1110.2" fill="#000000"/><polygon points="1863,1090.9 1886.4,1131.4 1839.6,1131.4" fill="#000000"/><polygon points="1885.7,1130.8 1909,1171.3 1862.3,1171.3" fill="#000000"/><polygon points="1908.3,1149.5 1931.7,1190 1885,1190" fill="#000000"/></g>
<g><polygon points="215.3,726 238.7,766.5 191.9,766.5" fill="#000000"/><polygon points="215.3,740.3 226.3,759.3 204.3,759.3" fill="#fff"/><polygon points="227.2,725.5 250.6,766 203.8,766" fill="#000000"/><polygon points="227.2,739.8 238.2,758.8 216.2,758.8" fill="#fff"/><polygon points="252.1,723 275.5,763.5 228.7,763.5" fill="#000000"/><polygon points="252.1,737.3 263.1,756.3 241.1,756.3" fill="#fff"/><polygon points="274.7,721.8 298.1,762.3 251.3,762.3" fill="#000000"/><polygon points="274.7,736.1 285.7,755.2 263.7,755.2" fill="#fff"/><polygon points="296.6,720.7 320,761.2 273.2,761.2" fill="#000000"/><polygon points="296.6,735 307.6,754 285.6,754" fill="#fff"/><polygon points="320.3,720.2 343.7,760.7 296.9,760.7" fill="#000000"/><polygon points="320.3,734.5 331.3,753.6 309.3,753.6" fill="#fff"/><polygon points="343,719.9 366.4,760.4 319.6,760.4" fill="#000000"/><polygon points="343,734.2 354,753.2 332,753.2" fill="#fff"/><polygon points="365.6,719.6 389,760.1 342.2,760.1" fill="#000000"/><polygon points="365.6,733.9 376.6,752.9 354.6,752.9" fill="#fff"/><polygon points="388.1,719.3 411.5,759.8 364.7,759.8" fill="#000000"/><polygon points="388.1,733.6 399.1,752.6 377.1,752.6" fill="#fff"/><polygon points="410.8,718.9 434.2,759.4 387.4,759.4" fill="#000000"/><polygon points="410.8,733.3 421.8,752.3 399.8,752.3" fill="#fff"/><polygon points="433.5,718.6 456.9,759.1 410.1,759.1" fill="#000000"/><polygon points="433.5,732.9 444.5,752 422.5,752" fill="#fff"/><polygon points="456.2,718.3 479.6,758.8 432.8,758.8" fill="#000000"/><polygon points="456.2,732.6 467.2,751.7 445.2,751.7" fill="#fff"/><polygon points="478.9,718 502.3,758.5 455.5,758.5" fill="#000000"/><polygon points="478.9,732.3 489.9,751.3 467.9,751.3" fill="#fff"/><polygon points="501.6,717.7 525,758.2 478.2,758.2" fill="#000000"/><polygon points="501.6,732 512.6,751 490.6,751" fill="#fff"/><polygon points="524.3,717.4 547.6,757.9 500.9,757.9" fill="#000000"/><polygon points="524.3,731.7 535.2,750.7 513.3,750.7" fill="#fff"/><polygon points="547,717 570.3,757.5 523.6,757.5" fill="#000000"/><polygon points="547,731.4 557.9,750.4 536,750.4" fill="#fff"/><polygon points="569.6,716.9 593,757.4 546.3,757.4" fill="#000000"/><polygon points="569.6,731.2 580.6,750.2 558.7,750.2" fill="#fff"/><polygon points="592.3,716.8 615.7,757.3 568.9,757.3" fill="#000000"/><polygon points="592.3,731.1 603.3,750.1 581.3,750.1" fill="#fff"/><polygon points="615,716.6 638.4,757.1 591.6,757.1" fill="#000000"/><polygon points="615,730.9 626,750 604,750" fill="#fff"/><polygon points="637.7,716.5 661.1,757 614.3,757" fill="#000000"/><polygon points="637.7,730.8 648.7,749.9 626.7,749.9" fill="#fff"/><polygon points="660.4,716.4 683.8,756.9 637,756.9" fill="#000000"/><polygon points="660.4,730.7 671.4,749.7 649.4,749.7" fill="#fff"/><polygon points="683.1,716.3 706.5,756.8 659.7,756.8" fill="#000000"/><polygon points="683.1,730.6 694.1,749.6 672.1,749.6" fill="#fff"/><polygon points="705.8,716.1 729.2,756.6 682.4,756.6" fill="#000000"/><polygon points="705.8,730.4 716.8,749.5 694.8,749.5" fill="#fff"/><polygon points="728.5,716 751.9,756.5 705.1,756.5" fill="#000000"/><polygon points="728.5,730.3 739.5,749.3 717.5,749.3" fill="#fff"/><polygon points="751.2,716.1 774.5,756.6 727.8,756.6" fill="#000000"/><polygon points="751.2,730.4 762.1,749.5 740.2,749.5" fill="#fff"/><polygon points="773.9,716.2 797.2,756.7 750.5,756.7" fill="#000000"/><polygon points="773.9,730.5 784.8,749.6 762.9,749.6" fill="#fff"/><polygon points="796.5,716.3 819.9,756.8 773.2,756.8" fill="#000000"/><polygon points="796.5,730.7 807.5,749.7 785.6,749.7" fill="#fff"/><polygon points="819.2,716.5 842.6,757 795.8,757" fill="#000000"/><polygon points="819.2,730.8 830.2,749.8 808.2,749.8" fill="#fff"/><polygon points="841.9,716.6 865.3,757.1 818.5,757.1" fill="#000000"/><polygon points="841.9,730.9 852.9,749.9 830.9,749.9" fill="#fff"/><polygon points="864.6,716.7 888,757.2 841.2,757.2" fill="#000000"/><polygon points="864.6,731 875.6,750 853.6,750" fill="#fff"/><polygon points="887.3,716.8 910.7,757.3 863.9,757.3" fill="#000000"/><polygon points="887.3,731.1 898.3,750.2 876.3,750.2" fill="#fff"/><polygon points="910,716.9 933.4,757.4 886.6,757.4" fill="#000000"/><polygon points="910,731.2 921,750.3 899,750.3" fill="#fff"/><polygon points="932.7,717 956.1,757.5 909.3,757.5" fill="#000000"/><polygon points="932.7,731.4 943.7,750.4 921.7,750.4" fill="#fff"/><polygon points="955.4,717.2 978.8,757.7 932,757.7" fill="#000000"/><polygon points="955.4,731.5 966.4,750.5 944.4,750.5" fill="#fff"/><polygon points="978.1,717.3 1001.4,757.8 954.7,757.8" fill="#000000"/><polygon points="978.1,731.6 989,750.6 967.1,750.6" fill="#fff"/><polygon points="1000.8,717.4 1024.1,757.9 977.4,757.9" fill="#000000"/><polygon points="1000.8,731.7 1011.7,750.7 989.8,750.7" fill="#fff"/><polygon points="1023.4,717.5 1046.8,758 1000.1,758" fill="#000000"/><polygon points="1023.4,731.8 1034.4,750.9 1012.5,750.9" fill="#fff"/><polygon points="1046.1,718.8 1069.5,759.3 1022.7,759.3" fill="#000000"/><polygon points="1046.1,733.1 1057.1,752.2 1035.1,752.2" fill="#fff"/><polygon points="1068.8,720.1 1092.2,760.6 1045.4,760.6" fill="#000000"/><polygon points="1068.8,734.4 1079.8,753.4 1057.8,753.4" fill="#fff"/><polygon points="1091.5,721.4 1114.9,761.9 1068.1,761.9" fill="#000000"/><polygon points="1091.5,735.7 1102.5,754.7 1080.5,754.7" fill="#fff"/><polygon points="1114.2,722.7 1137.6,763.2 1090.8,763.2" fill="#000000"/><polygon points="1114.2,737 1125.2,756 1103.2,756" fill="#fff"/><polygon points="1136.9,724 1160.3,764.5 1113.5,764.5" fill="#000000"/><polygon points="1136.9,738.3 1147.9,757.3 1125.9,757.3" fill="#fff"/><polygon points="1159.6,725.2 1183,765.7 1136.2,765.7" fill="#000000"/><polygon points="1159.6,739.5 1170.6,758.6 1148.6,758.6" fill="#fff"/><polygon points="1182.3,726.5 1205.7,767 1158.9,767" fill="#000000"/><polygon points="1182.3,740.8 1193.3,759.9 1171.3,759.9" fill="#fff"/><polygon points="1205,727.8 1228.3,768.3 1181.6,768.3" fill="#000000"/><polygon points="1205,742.1 1215.9,761.2 1194,761.2" fill="#fff"/><polygon points="1227.7,729.1 1251,769.6 1204.3,769.6" fill="#000000"/><polygon points="1227.7,743.4 1238.6,762.4 1216.7,762.4" fill="#fff"/><polygon points="1250.3,730.5 1273.7,771 1227,771" fill="#000000"/><polygon points="1250.3,744.8 1261.3,763.8 1239.4,763.8" fill="#fff"/><polygon points="1273,732.9 1296.4,773.4 1249.6,773.4" fill="#000000"/><polygon points="1273,747.2 1284,766.3 1262,766.3" fill="#fff"/><polygon points="1295.7,735.4 1319.1,775.9 1272.3,775.9" fill="#000000"/><polygon points="1295.7,749.7 1306.7,768.7 1284.7,768.7" fill="#fff"/><polygon points="1318.4,737.1 1341.8,777.6 1295,777.6" fill="#000000"/><polygon points="1318.4,751.4 1329.4,770.5 1307.4,770.5" fill="#fff"/><polygon points="1341.1,739.1 1364.5,779.6 1317.7,779.6" fill="#000000"/><polygon points="1341.1,753.5 1352.1,772.5 1330.1,772.5" fill="#fff"/><polygon points="1363.8,741.6 1387.2,782.1 1340.4,782.1" fill="#000000"/><polygon points="1363.8,755.9 1374.8,775 1352.8,775" fill="#fff"/><polygon points="1386.5,744.1 1409.9,784.6 1363.1,784.6" fill="#000000"/><polygon points="1386.5,758.4 1397.5,777.4 1375.5,777.4" fill="#fff"/><polygon points="1409.2,745.4 1432.6,785.9 1385.8,785.9" fill="#000000"/><polygon points="1409.2,759.8 1420.2,778.8 1398.2,778.8" fill="#fff"/><polygon points="1431.9,749.2 1455.2,789.7 1408.5,789.7" fill="#000000"/><polygon points="1431.9,763.5 1442.8,782.6 1420.9,782.6" fill="#fff"/><polygon points="1454.5,752.9 1477.9,793.4 1431.2,793.4" fill="#000000"/><polygon points="1454.5,767.2 1465.5,786.3 1443.6,786.3" fill="#fff"/><polygon points="1477.2,756.7 1500.6,797.2 1453.9,797.2" fill="#000000"/><polygon points="1477.2,771 1488.2,790 1466.3,790" fill="#fff"/><polygon points="1499.9,760.5 1523.3,801 1476.5,801" fill="#000000"/><polygon points="1499.9,774.8 1510.9,793.8 1488.9,793.8" fill="#fff"/><polygon points="1522.6,765.4 1546,805.9 1499.2,805.9" fill="#000000"/><polygon points="1522.6,779.7 1533.6,798.7 1511.6,798.7" fill="#fff"/><polygon points="1545.3,770.4 1568.7,810.9 1521.9,810.9" fill="#000000"/><polygon points="1545.3,784.7 1556.3,803.8 1534.3,803.8" fill="#fff"/><polygon points="1568,777.1 1591.4,817.6 1544.6,817.6" fill="#000000"/><polygon points="1568,791.4 1579,810.5 1557,810.5" fill="#fff"/><polygon points="1590.7,780.2 1614.1,820.7 1567.3,820.7" fill="#000000"/><polygon points="1590.7,794.5 1601.7,813.5 1579.7,813.5" fill="#fff"/><polygon points="1613.4,784.2 1636.8,824.7 1590,824.7" fill="#000000"/><polygon points="1613.4,798.5 1624.4,817.5 1602.4,817.5" fill="#fff"/><polygon points="1636.1,789.6 1659.5,830.1 1612.7,830.1" fill="#000000"/><polygon points="1636.1,803.9 1647.1,822.9 1625.1,822.9" fill="#fff"/><polygon points="1658.8,794.1 1682.1,834.6 1635.4,834.6" fill="#000000"/><polygon points="1658.8,808.4 1669.7,827.5 1647.8,827.5" fill="#fff"/><polygon points="1681.5,799.2 1704.8,839.7 1658.1,839.7" fill="#000000"/><polygon points="1681.5,813.5 1692.4,832.5 1670.5,832.5" fill="#fff"/><polygon points="1704.1,804.7 1727.5,845.2 1680.8,845.2" fill="#000000"/><polygon points="1704.1,819 1715.1,838 1693.2,838" fill="#fff"/><polygon points="1726.8,807.4 1750.2,847.9 1703.4,847.9" fill="#000000"/><polygon points="1726.8,821.7 1737.8,840.7 1715.8,840.7" fill="#fff"/><polygon points="1749.5,812.9 1772.9,853.4 1726.1,853.4" fill="#000000"/><polygon points="1749.5,827.2 1760.5,846.2 1738.5,846.2" fill="#fff"/><polygon points="1772.2,816.8 1795.6,857.3 1748.8,857.3" fill="#000000"/><polygon points="1772.2,831.1 1783.2,850.1 1761.2,850.1" fill="#fff"/><polygon points="1794.9,821.7 1818.3,862.2 1771.5,862.2" fill="#000000"/><polygon points="1794.9,836 1805.9,855 1783.9,855" fill="#fff"/><polygon points="1817.6,825.8 1841,866.3 1794.2,866.3" fill="#000000"/><polygon points="1817.6,840.2 1828.6,859.2 1806.6,859.2" fill="#fff"/><polygon points="1840.3,832.3 1863.7,872.8 1816.9,872.8" fill="#000000"/><polygon points="1840.3,846.7 1851.3,865.7 1829.3,865.7" fill="#fff"/><polygon points="1863,840.8 1886.4,881.3 1839.6,881.3" fill="#000000"/><polygon points="1863,855.1 1874,874.1 1852,874.1" fill="#fff"/><polygon points="1885.7,853 1909,893.5 1862.3,893.5" fill="#000000"/><polygon points="1885.7,867.4 1896.6,886.4 1874.7,886.4" fill="#fff"/><polygon points="1908.3,866.6 1931.7,907.1 1885,907.1" fill="#000000"/><polygon points="1908.3,880.9 1919.3,900 1897.4,900" fill="#fff"/></g>
<g><polygon points="225.2,566 259.8,566 259.8,600.6 225.2,600.6" fill="#008000"/><polygon points="257.7,565.2 292.3,565.2 292.3,599.8 257.7,599.8" fill="#008000"/><polygon points="293.7,565.2 328.3,565.2 328.3,599.8 293.7,599.8" fill="#008000"/><polygon points="326.7,565.2 361.3,565.2 361.3,599.8 326.7,599.8" fill="#008000"/><polygon points="360.7,565.2 395.3,565.2 395.3,599.8 360.7,599.8" fill="#008000"/><polygon points="394.7,565.2 429.3,565.2 429.3,599.8 394.7,599.8" fill="#008000"/><polygon points="428.7,565.2 463.3,565.2 463.3,599.8 428.7,599.8" fill="#008000"/><polygon points="462.2,565.2 496.8,565.2 496.8,599.8 462.2,599.8" fill="#008000"/><polygon points="496.7,565.2 531.3,565.2 531.3,599.8 496.7,599.8" fill="#008000"/><polygon points="530.7,566.4 565.3,566.4 565.3,601 530.7,601" fill="#008000"/><polygon points="565.2,567.9 599.8,567.9 599.8,602.5 565.2,602.5" fill="#008000"/><polygon points="599.7,570 634.3,570 634.3,604.6 599.7,604.6" fill="#008000"/><polygon points="633.2,573.1 667.8,573.1 667.8,607.7 633.2,607.7" fill="#008000"/><polygon points="668.7,577.7 703.3,577.7 703.3,612.3 668.7,612.3" fill="#008000"/><polygon points="702,581.1 736.5,581.1 736.5,615.7 702,615.7" fill="#008000"/><polygon points="738.2,587.2 772.8,587.2 772.8,621.8 738.2,621.8" fill="#008000"/><polygon points="772.7,593.9 807.3,593.9 807.3,628.5 772.7,628.5" fill="#008000"/><polygon points="807.5,602.5 842,602.5 842,637.1 807.5,637.1" fill="#008000"/><polygon points="843.2,614 877.8,614 877.8,648.5 843.2,648.5" fill="#008000"/><polygon points="877.7,625.7 912.3,625.7 912.3,660.3 877.7,660.3" fill="#008000"/><polygon points="912,637.6 946.5,637.6 946.5,672.2 912,672.2" fill="#008000"/><polygon points="947,650.8 981.5,650.8 981.5,685.4 947,685.4" fill="#008000"/><polygon points="980.7,666.5 1015.3,666.5 1015.3,701 980.7,701" fill="#008000"/><polygon points="1014.5,679.9 1049,679.9 1049,714.5 1014.5,714.5" fill="#008000"/><polygon points="1048.7,695.2 1083.3,695.2 1083.3,729.8 1048.7,729.8" fill="#008000"/><polygon points="1084.5,713.1 1119,713.1 1119,747.7 1084.5,747.7" fill="#008000"/><polygon points="1118.2,730.2 1152.8,730.2 1152.8,764.8 1118.2,764.8" fill="#008000"/><polygon points="1152,746.1 1186.5,746.1 1186.5,780.7 1152,780.7" fill="#008000"/><polygon points="1185.7,764 1220.3,764 1220.3,798.5 1185.7,798.5" fill="#008000"/><polygon points="1218.7,781.4 1253.3,781.4 1253.3,816 1218.7,816" fill="#008000"/><polygon points="1253.2,798.7 1287.8,798.7 1287.8,833.3 1253.2,833.3" fill="#008000"/><polygon points="1286.7,817.2 1321.3,817.2 1321.3,851.8 1286.7,851.8" fill="#008000"/><polygon points="1320.5,836.2 1355,836.2 1355,870.8 1320.5,870.8" fill="#008000"/><polygon points="1354.2,854.7 1388.8,854.7 1388.8,889.3 1354.2,889.3" fill="#008000"/><polygon points="1388.2,876 1422.8,876 1422.8,910.5 1388.2,910.5" fill="#008000"/><polygon points="1422,898.9 1456.5,898.9 1456.5,933.5 1422,933.5" fill="#008000"/><polygon points="1455,925.1 1489.5,925.1 1489.5,959.7 1455,959.7" fill="#008000"/><polygon points="1488.2,952.6 1522.8,952.6 1522.8,987.2 1488.2,987.2" fill="#008000"/><polygon points="1521.2,983.7 1555.8,983.7 1555.8,1018.3 1521.2,1018.3" fill="#008000"/><polygon points="1553.7,1015.7 1588.3,1015.7 1588.3,1050.3 1553.7,1050.3" fill="#008000"/><polygon points="1586.2,1047.2 1620.8,1047.2 1620.8,1081.8 1586.2,1081.8" fill="#008000"/><polygon points="1619.5,1085.2 1654,1085.2 1654,1119.8 1619.5,1119.8" fill="#008000"/><polygon points="1652,1129.6 1686.5,1129.6 1686.5,1164.2 1652,1164.2" fill="#008000"/><polygon points="1685,1183.3 1719.5,1183.3 1719.5,1217.9 1685,1217.9" fill="#008000"/><polygon points="1718.7,1262 1753.3,1262 1753.3,1296.5 1718.7,1296.5" fill="#008000"/></g>
<g><polygon points="225.2,616.5 259.8,616.5 259.8,651 225.2,651" fill="#008000"/><polygon points="234,625.3 251,625.3 251,642.2 234,642.2" fill="#fff"/><polygon points="257.7,616.5 292.3,616.5 292.3,651 257.7,651" fill="#008000"/><polygon points="266.5,625.3 283.5,625.3 283.5,642.2 266.5,642.2" fill="#fff"/><polygon points="293.7,616.5 328.3,616.5 328.3,651 293.7,651" fill="#008000"/><polygon points="302.5,625.3 319.5,625.3 319.5,642.2 302.5,642.2" fill="#fff"/><polygon points="326.7,616.5 361.3,616.5 361.3,651 326.7,651" fill="#008000"/><polygon points="335.5,625.3 352.5,625.3 352.5,642.2 335.5,642.2" fill="#fff"/><polygon points="360.7,616.5 395.3,616.5 395.3,651 360.7,651" fill="#008000"/><polygon points="369.5,625.3 386.5,625.3 386.5,642.2 369.5,642.2" fill="#fff"/><polygon points="394.7,616.5 429.3,616.5 429.3,651 394.7,651" fill="#008000"/><polygon points="403.5,625.3 420.5,625.3 420.5,642.2 403.5,642.2" fill="#fff"/><polygon points="428.7,616.5 463.3,616.5 463.3,651 428.7,651" fill="#008000"/><polygon points="437.5,625.3 454.5,625.3 454.5,642.2 437.5,642.2" fill="#fff"/><polygon points="462.2,616.5 496.8,616.5 496.8,651 462.2,651" fill="#008000"/><polygon points="471,625.3 488,625.3 488,642.2 471,642.2" fill="#fff"/><polygon points="496.7,616.7 531.3,616.7 531.3,651.3 496.7,651.3" fill="#008000"/><polygon points="505.5,625.5 522.5,625.5 522.5,642.5 505.5,642.5" fill="#fff"/><polygon points="530.7,616.7 565.3,616.7 565.3,651.3 530.7,651.3" fill="#008000"/><polygon points="539.5,625.5 556.5,625.5 556.5,642.5 539.5,642.5" fill="#fff"/><polygon points="565.2,617 599.8,617 599.8,651.6 565.2,651.6" fill="#008000"/><polygon points="574,625.8 591,625.8 591,642.8 574,642.8" fill="#fff"/><polygon points="599.7,617.3 634.3,617.3 634.3,651.9 599.7,651.9" fill="#008000"/><polygon points="608.5,626.1 625.5,626.1 625.5,643.1 608.5,643.1" fill="#fff"/><polygon points="633.2,617.7 667.8,617.7 667.8,652.3 633.2,652.3" fill="#008000"/><polygon points="642,626.5 659,626.5 659,643.5 642,643.5" fill="#fff"/><polygon points="668.7,618.2 703.3,618.2 703.3,652.8 668.7,652.8" fill="#008000"/><polygon points="677.5,627 694.5,627 694.5,644 677.5,644" fill="#fff"/><polygon points="702,619 736.5,619 736.5,653.5 702,653.5" fill="#008000"/><polygon points="710.8,627.8 727.7,627.8 727.7,644.7 710.8,644.7" fill="#fff"/><polygon points="738.2,620.7 772.8,620.7 772.8,655.3 738.2,655.3" fill="#008000"/><polygon points="747,629.5 764,629.5 764,646.5 747,646.5" fill="#fff"/><polygon points="772.7,624 807.3,624 807.3,658.5 772.7,658.5" fill="#008000"/><polygon points="781.5,632.8 798.5,632.8 798.5,649.7 781.5,649.7" fill="#fff"/><polygon points="807.5,626.5 842,626.5 842,661 807.5,661" fill="#008000"/><polygon points="816.3,635.3 833.2,635.3 833.2,652.2 816.3,652.2" fill="#fff"/><polygon points="843.2,631.5 877.8,631.5 877.8,666 843.2,666" fill="#008000"/><polygon points="852,640.3 869,640.3 869,657.2 852,657.2" fill="#fff"/><polygon points="877.7,637.7 912.3,637.7 912.3,672.3 877.7,672.3" fill="#008000"/><polygon points="886.5,646.5 903.5,646.5 903.5,663.5 886.5,663.5" fill="#fff"/><polygon points="912,642.2 946.5,642.2 946.5,676.8 912,676.8" fill="#008000"/><polygon points="920.8,651 937.7,651 937.7,668 920.8,668" fill="#fff"/><polygon points="947,650.2 981.5,650.2 981.5,684.8 947,684.8" fill="#008000"/><polygon points="955.8,659 972.7,659 972.7,676 955.8,676" fill="#fff"/><polygon points="980.7,658.2 1015.3,658.2 1015.3,692.8 980.7,692.8" fill="#008000"/><polygon points="989.5,667 1006.5,667 1006.5,684 989.5,684" fill="#fff"/><polygon points="1014.5,667.2 1049,667.2 1049,701.8 1014.5,701.8" fill="#008000"/><polygon points="1023.3,676 1040.2,676 1040.2,693 1023.3,693" fill="#fff"/><polygon points="1048.7,676.5 1083.3,676.5 1083.3,711 1048.7,711" fill="#008000"/><polygon points="1057.5,685.3 1074.5,685.3 1074.5,702.2 1057.5,702.2" fill="#fff"/><polygon points="1084.5,688.5 1119,688.5 1119,723 1084.5,723" fill="#008000"/><polygon points="1093.3,697.3 1110.2,697.3 1110.2,714.2 1093.3,714.2" fill="#fff"/><polygon points="1118.2,700.2 1152.8,700.2 1152.8,734.8 1118.2,734.8" fill="#008000"/><polygon points="1127,709 1144,709 1144,726 1127,726" fill="#fff"/><polygon points="1152,712.2 1186.5,712.2 1186.5,746.8 1152,746.8" fill="#008000"/><polygon points="1160.8,721 1177.7,721 1177.7,738 1160.8,738" fill="#fff"/><polygon points="1185.7,724.7 1220.3,724.7 1220.3,759.3 1185.7,759.3" fill="#008000"/><polygon points="1194.5,733.5 1211.5,733.5 1211.5,750.5 1194.5,750.5" fill="#fff"/><polygon points="1218.7,738 1253.3,738 1253.3,772.5 1218.7,772.5" fill="#008000"/><polygon points="1227.5,746.8 1244.5,746.8 1244.5,763.7 1227.5,763.7" fill="#fff"/><polygon points="1253.2,751.2 1287.8,751.2 1287.8,785.8 1253.2,785.8" fill="#008000"/><polygon points="1262,760 1279,760 1279,777 1262,777" fill="#fff"/><polygon points="1286.7,765.5 1321.3,765.5 1321.3,800 1286.7,800" fill="#008000"/><polygon points="1295.5,774.3 1312.5,774.3 1312.5,791.2 1295.5,791.2" fill="#fff"/><polygon points="1320.5,777.5 1355,777.5 1355,812 1320.5,812" fill="#008000"/><polygon points="1329.3,786.3 1346.2,786.3 1346.2,803.2 1329.3,803.2" fill="#fff"/><polygon points="1354.2,790 1388.8,790 1388.8,824.5 1354.2,824.5" fill="#008000"/><polygon points="1363,798.8 1380,798.8 1380,815.7 1363,815.7" fill="#fff"/><polygon points="1388.2,803 1422.8,803 1422.8,837.5 1388.2,837.5" fill="#008000"/><polygon points="1397,811.8 1414,811.8 1414,828.7 1397,828.7" fill="#fff"/><polygon points="1422,815.5 1456.5,815.5 1456.5,850 1422,850" fill="#008000"/><polygon points="1430.8,824.3 1447.7,824.3 1447.7,841.2 1430.8,841.2" fill="#fff"/><polygon points="1455,828 1489.5,828 1489.5,862.5 1455,862.5" fill="#008000"/><polygon points="1463.8,836.8 1480.7,836.8 1480.7,853.7 1463.8,853.7" fill="#fff"/><polygon points="1488.2,841.7 1522.8,841.7 1522.8,876.3 1488.2,876.3" fill="#008000"/><polygon points="1497,850.5 1514,850.5 1514,867.5 1497,867.5" fill="#fff"/><polygon points="1521.2,856.2 1555.8,856.2 1555.8,890.8 1521.2,890.8" fill="#008000"/><polygon points="1530,865 1547,865 1547,882 1530,882" fill="#fff"/><polygon points="1553.7,872.2 1588.3,872.2 1588.3,906.8 1553.7,906.8" fill="#008000"/><polygon points="1562.5,881 1579.5,881 1579.5,898 1562.5,898" fill="#fff"/><polygon points="1586.2,888 1620.8,888 1620.8,922.5 1586.2,922.5" fill="#008000"/><polygon points="1595,896.8 1612,896.8 1612,913.7 1595,913.7" fill="#fff"/><polygon points="1619.5,904.2 1654,904.2 1654,938.8 1619.5,938.8" fill="#008000"/><polygon points="1628.3,913 1645.2,913 1645.2,930 1628.3,930" fill="#fff"/><polygon points="1652,920.5 1686.5,920.5 1686.5,955 1652,955" fill="#008000"/><polygon points="1660.8,929.3 1677.7,929.3 1677.7,946.2 1660.8,946.2" fill="#fff"/><polygon points="1685,936.7 1719.5,936.7 1719.5,971.3 1685,971.3" fill="#008000"/><polygon points="1693.8,945.5 1710.7,945.5 1710.7,962.5 1693.8,962.5" fill="#fff"/><polygon points="1718.7,956.5 1753.3,956.5 1753.3,991 1718.7,991" fill="#008000"/><polygon points="1727.5,965.3 1744.5,965.3 1744.5,982.2 1727.5,982.2" fill="#fff"/><polygon points="1752.2,986 1786.8,986 1786.8,1020.5 1752.2,1020.5" fill="#008000"/><polygon points="1761,994.8 1778,994.8 1778,1011.7 1761,1011.7" fill="#fff"/><polygon points="1785.5,1024.7 1820,1024.7 1820,1059.3 1785.5,1059.3" fill="#008000"/><polygon points="1794.3,1033.5 1811.2,1033.5 1811.2,1050.5 1794.3,1050.5" fill="#fff"/><polygon points="1818,1059 1852.5,1059 1852.5,1093.5 1818,1093.5" fill="#008000"/><polygon points="1826.8,1067.8 1843.7,1067.8 1843.7,1084.7 1826.8,1084.7" fill="#fff"/><polygon points="1851.7,1092.2 1886.3,1092.2 1886.3,1126.8 1851.7,1126.8" fill="#008000"/><polygon points="1860.5,1101 1877.5,1101 1877.5,1118 1860.5,1118" fill="#fff"/><polygon points="1885.5,1145.2 1920,1145.2 1920,1179.8 1885.5,1179.8" fill="#008000"/><polygon points="1894.3,1154 1911.2,1154 1911.2,1171 1894.3,1171" fill="#fff"/></g>
<g><polygon points="243.8,704.9 248.4,719.1 263.3,719.1 251.2,727.9 255.9,742.2 243.8,733.4 231.6,742.2 236.3,727.9 224.2,719.1 239.1,719.1" fill="#ff00ff" stroke="#ff00ff" stroke-width="9" stroke-miterlimit="2"/><polygon points="280.5,711.4 285.1,725.6 300.1,725.6 288,734.4 292.6,748.7 280.5,739.9 268.4,748.7 273,734.4 260.9,725.6 275.9,725.6" fill="#ff00ff" stroke="#ff00ff" stroke-width="9" stroke-miterlimit="2"/><polygon points="316,719.9 320.6,734.1 335.6,734.1 323.5,742.9 328.1,757.2 316,748.4 303.9,757.2 308.5,742.9 296.4,734.1 311.4,734.1" fill="#ff00ff" stroke="#ff00ff" stroke-width="9" stroke-miterlimit="2"/><polygon points="341,716.4 345.6,730.6 360.6,730.6 348.5,739.4 353.1,753.7 341,744.9 328.9,753.7 333.5,739.4 321.4,730.6 336.4,730.6" fill="#ff00ff" stroke="#ff00ff" stroke-width="9" stroke-miterlimit="2"/><polygon points="374,712.9 378.6,727.1 393.6,727.1 381.5,735.9 386.1,750.2 374,741.4 361.9,750.2 366.5,735.9 354.4,727.1 369.4,727.1" fill="#ff00ff" stroke="#ff00ff" stroke-width="9" stroke-miterlimit="2"/><polygon points="415,716.4 419.6,730.6 434.6,730.6 422.5,739.4 427.1,753.7 415,744.9 402.9,753.7 407.5,739.4 395.4,730.6 410.4,730.6" fill="#ff00ff" stroke="#ff00ff" stroke-width="9" stroke-miterlimit="2"/><polygon points="444,713.9 448.6,728.1 463.6,728.1 451.5,736.9 456.1,751.2 444,742.4 431.9,751.2 436.5,736.9 424.4,728.1 439.4,728.1" fill="#ff00ff" stroke="#ff00ff" stroke-width="9" stroke-miterlimit="2"/><polygon points="480,714.9 484.6,729.1 499.6,729.1 487.5,737.9 492.1,752.2 480,743.4 467.9,752.2 472.5,737.9 460.4,729.1 475.4,729.1" fill="#ff00ff" stroke="#ff00ff" stroke-width="9" stroke-miterlimit="2"/><polygon points="514,717.9 518.6,732.1 533.6,732.1 521.5,740.9 526.1,755.2 514,746.4 501.9,755.2 506.5,740.9 494.4,732.1 509.4,732.1" fill="#ff00ff" stroke="#ff00ff" stroke-width="9" stroke-miterlimit="2"/><polygon points="547.5,718.9 552.1,733.1 567.1,733.1 555,741.9 559.6,756.2 547.5,747.4 535.4,756.2 540,741.9 527.9,733.1 542.9,733.1" fill="#ff00ff" stroke="#ff00ff" stroke-width="9" stroke-miterlimit="2"/><polygon points="584,723.9 588.6,738.1 603.6,738.1 591.5,746.9 596.1,761.2 584,752.4 571.9,761.2 576.5,746.9 564.4,738.1 579.4,738.1" fill="#ff00ff" stroke="#ff00ff" stroke-width="9" stroke-miterlimit="2"/><polygon points="615,728.9 619.6,743.1 634.6,743.1 622.5,751.9 627.1,766.2 615,757.4 602.9,766.2 607.5,751.9 595.4,743.1 610.4,743.1" fill="#ff00ff" stroke="#ff00ff" stroke-width="9" stroke-miterlimit="2"/><polygon points="652.5,733.9 657.1,748.1 672.1,748.1 660,756.9 664.6,771.2 652.5,762.4 640.4,771.2 645,756.9 632.9,748.1 647.9,748.1" fill="#ff00ff" stroke="#ff00ff" stroke-width="9" stroke-miterlimit="2"/><polygon points="687.5,738.9 692.1,753.1 707.1,753.1 695,761.9 699.6,776.2 687.5,767.4 675.4,776.2 680,761.9 667.9,753.1 682.9,753.1" fill="#ff00ff" stroke="#ff00ff" stroke-width="9" stroke-miterlimit="2"/><polygon points="720,743.9 724.6,758.1 739.6,758.1 727.5,766.9 732.1,781.2 720,772.4 707.9,781.2 712.5,766.9 700.4,758.1 715.4,758.1" fill="#ff00ff" stroke="#ff00ff" stroke-width="9" stroke-miterlimit="2"/><polygon points="758,753.9 762.6,768.1 777.6,768.1 765.5,776.9 770.1,791.2 758,782.4 745.9,791.2 750.5,776.9 738.4,768.1 753.4,768.1" fill="#ff00ff" stroke="#ff00ff" stroke-width="9" stroke-miterlimit="2"/><polygon points="788.5,761.4 793.1,775.6 808.1,775.6 796,784.4 800.6,798.7 788.5,789.9 776.4,798.7 781,784.4 768.9,775.6 783.9,775.6" fill="#ff00ff" stroke="#ff00ff" stroke-width="9" stroke-miterlimit="2"/><polygon points="826.8,774.9 831.4,789.1 846.3,789.1 834.2,797.9 838.9,812.2 826.8,803.4 814.6,812.2 819.3,797.9 807.2,789.1 822.1,789.1" fill="#ff00ff" stroke="#ff00ff" stroke-width="9" stroke-miterlimit="2"/><polygon points="859,785.9 863.6,800.1 878.6,800.1 866.5,808.9 871.1,823.2 859,814.4 846.9,823.2 851.5,808.9 839.4,800.1 854.4,800.1" fill="#ff00ff" stroke="#ff00ff" stroke-width="9" stroke-miterlimit="2"/><polygon points="894,797.9 898.6,812.1 913.6,812.1 901.5,820.9 906.1,835.2 894,826.4 881.9,835.2 886.5,820.9 874.4,812.1 889.4,812.1" fill="#ff00ff" stroke="#ff00ff" stroke-width="9" stroke-miterlimit="2"/><polygon points="928,811.9 932.6,826.1 947.6,826.1 935.5,834.9 940.1,849.2 928,840.4 915.9,849.2 920.5,834.9 908.4,826.1 923.4,826.1" fill="#ff00ff" stroke="#ff00ff" stroke-width="9" stroke-miterlimit="2"/><polygon points="962.5,826.9 967.1,841.1 982.1,841.1 970,849.9 974.6,864.2 962.5,855.4 950.4,864.2 955,849.9 942.9,841.1 957.9,841.1" fill="#ff00ff" stroke="#ff00ff" stroke-width="9" stroke-miterlimit="2"/><polygon points="996.8,841.9 1001.4,856.1 1016.3,856.1 1004.2,864.9 1008.9,879.2 996.8,870.4 984.6,879.2 989.3,864.9 977.2,856.1 992.1,856.1" fill="#ff00ff" stroke="#ff00ff" stroke-width="9" stroke-miterlimit="2"/><polygon points="1030.5,858.9 1035.1,873.1 1050.1,873.1 1038,881.9 1042.6,896.2 1030.5,887.4 1018.4,896.2 1023,881.9 1010.9,873.1 1025.9,873.1" fill="#ff00ff" stroke="#ff00ff" stroke-width="9" stroke-miterlimit="2"/><polygon points="1063,876.4 1067.6,890.6 1082.6,890.6 1070.5,899.4 1075.1,913.7 1063,904.9 1050.9,913.7 1055.5,899.4 1043.4,890.6 1058.4,890.6" fill="#ff00ff" stroke="#ff00ff" stroke-width="9" stroke-miterlimit="2"/><polygon points="1096.8,893.9 1101.4,908.1 1116.3,908.1 1104.2,916.9 1108.9,931.2 1096.8,922.4 1084.6,931.2 1089.3,916.9 1077.2,908.1 1092.1,908.1" fill="#ff00ff" stroke="#ff00ff" stroke-width="9" stroke-miterlimit="2"/><polygon points="1130.5,911.4 1135.1,925.6 1150.1,925.6 1138,934.4 1142.6,948.7 1130.5,939.9 1118.4,948.7 1123,934.4 1110.9,925.6 1125.9,925.6" fill="#ff00ff" stroke="#ff00ff" stroke-width="9" stroke-miterlimit="2"/><polygon points="1163.8,931.4 1168.4,945.6 1183.3,945.6 1171.2,954.4 1175.9,968.7 1163.8,959.9 1151.6,968.7 1156.3,954.4 1144.2,945.6 1159.1,945.6" fill="#ff00ff" stroke="#ff00ff" stroke-width="9" stroke-miterlimit="2"/><polygon points="1196.8,951.4 1201.4,965.6 1216.3,965.6 1204.2,974.4 1208.9,988.7 1196.8,979.9 1184.6,988.7 1189.3,974.4 1177.2,965.6 1192.1,965.6" fill="#ff00ff" stroke="#ff00ff" stroke-width="9" stroke-miterlimit="2"/><polygon points="1229.8,974.1 1234.4,988.4 1249.3,988.4 1237.2,997.2 1241.9,1011.4 1229.8,1002.6 1217.6,1011.4 1222.3,997.2 1210.2,988.4 1225.1,988.4" fill="#ff00ff" stroke="#ff00ff" stroke-width="9" stroke-miterlimit="2"/><polygon points="1262.8,1000.4 1267.4,1014.6 1282.3,1014.6 1270.2,1023.4 1274.9,1037.7 1262.8,1028.9 1250.6,1037.7 1255.3,1023.4 1243.2,1014.6 1258.1,1014.6" fill="#ff00ff" stroke="#ff00ff" stroke-width="9" stroke-miterlimit="2"/><polygon points="1296,1025.4 1300.6,1039.6 1315.6,1039.6 1303.5,1048.4 1308.1,1062.7 1296,1053.9 1283.9,1062.7 1288.5,1048.4 1276.4,1039.6 1291.4,1039.6" fill="#ff00ff" stroke="#ff00ff" stroke-width="9" stroke-miterlimit="2"/><polygon points="1329.2,1054.2 1333.9,1068.4 1348.8,1068.4 1336.7,1077.2 1341.4,1091.4 1329.2,1082.6 1317.1,1091.4 1321.8,1077.2 1309.7,1068.4 1324.6,1068.4" fill="#ff00ff" stroke="#ff00ff" stroke-width="9" stroke-miterlimit="2"/><polygon points="1362.8,1081.7 1367.4,1095.9 1382.3,1095.9 1370.2,1104.7 1374.9,1118.9 1362.8,1110.1 1350.6,1118.9 1355.3,1104.7 1343.2,1095.9 1358.1,1095.9" fill="#ff00ff" stroke="#ff00ff" stroke-width="9" stroke-miterlimit="2"/><polygon points="1396,1113.9 1400.6,1128.1 1415.6,1128.1 1403.5,1136.9 1408.1,1151.2 1396,1142.4 1383.9,1151.2 1388.5,1136.9 1376.4,1128.1 1391.4,1128.1" fill="#ff00ff" stroke="#ff00ff" stroke-width="9" stroke-miterlimit="2"/><polygon points="1429.8,1143.4 1434.4,1157.6 1449.3,1157.6 1437.2,1166.4 1441.9,1180.7 1429.8,1171.9 1417.6,1180.7 1422.3,1166.4 1410.2,1157.6 1425.1,1157.6" fill="#ff00ff" stroke="#ff00ff" stroke-width="9" stroke-miterlimit="2"/><polygon points="1463.5,1177.2 1468.1,1191.4 1483.1,1191.4 1471,1200.2 1475.6,1214.4 1463.5,1205.6 1451.4,1214.4 1456,1200.2 1443.9,1191.4 1458.9,1191.4" fill="#ff00ff" stroke="#ff00ff" stroke-width="9" stroke-miterlimit="2"/><polygon points="1496.5,1210.2 1501.1,1224.4 1516.1,1224.4 1504,1233.2 1508.6,1247.4 1496.5,1238.6 1484.4,1247.4 1489,1233.2 1476.9,1224.4 1491.9,1224.4" fill="#ff00ff" stroke="#ff00ff" stroke-width="9" stroke-miterlimit="2"/><polygon points="1530.5,1237.2 1535.1,1251.4 1550.1,1251.4 1538,1260.2 1542.6,1274.4 1530.5,1265.6 1518.4,1274.4 1523,1260.2 1510.9,1251.4 1525.9,1251.4" fill="#ff00ff" stroke="#ff00ff" stroke-width="9" stroke-miterlimit="2"/><polygon points="1564.2,1258.4 1568.9,1272.6 1583.8,1272.6 1571.7,1281.4 1576.4,1295.7 1564.2,1286.9 1552.1,1295.7 1556.8,1281.4 1544.7,1272.6 1559.6,1272.6" fill="#ff00ff" stroke="#ff00ff" stroke-width="9" stroke-miterlimit="2"/><polygon points="1598,1302.7 1602.6,1316.9 1617.6,1316.9 1605.5,1325.7 1610.1,1339.9 1598,1331.1 1585.9,1339.9 1590.5,1325.7 1578.4,1316.9 1593.4,1316.9" fill="#ff00ff" stroke="#ff00ff" stroke-width="9" stroke-miterlimit="2"/><polygon points="1631.8,1357.2 1636.4,1371.4 1651.3,1371.4 1639.2,1380.2 1643.9,1394.4 1631.8,1385.6 1619.6,1394.4 1624.3,1380.2 1612.2,1371.4 1627.1,1371.4" fill="#ff00ff" stroke="#ff00ff" stroke-width="9" stroke-miterlimit="2"/><polygon points="1665.5,1398.9 1670.1,1413.1 1685.1,1413.1 1673,1421.9 1677.6,1436.2 1665.5,1427.4 1653.4,1436.2 1658,1421.9 1645.9,1413.1 1660.9,1413.1" fill="#ff00ff" stroke="#ff00ff" stroke-width="9" stroke-miterlimit="2"/><polygon points="1699.2,1446.9 1703.9,1461.1 1718.8,1461.1 1706.7,1469.9 1711.4,1484.2 1699.2,1475.4 1687.1,1484.2 1691.8,1469.9 1679.7,1461.1 1694.6,1461.1" fill="#ff00ff" stroke="#ff00ff" stroke-width="9" stroke-miterlimit="2"/><polygon points="1733.5,1524.4 1738.1,1538.6 1753.1,1538.6 1741,1547.4 1745.6,1561.7 1733.5,1552.9 1721.4,1561.7 1726,1547.4 1713.9,1538.6 1728.9,1538.6" fill="#ff00ff" stroke="#ff00ff" stroke-width="9" stroke-miterlimit="2"/></g>
<g><polygon points="243.8,748.1 248.4,762.4 263.3,762.4 251.2,771.2 255.9,785.4 243.8,776.6 231.6,785.4 236.3,771.2 224.2,762.4 239.1,762.4" fill="#fff" stroke="#ff00ff" stroke-width="9" stroke-miterlimit="2"/><polygon points="280.5,748.1 285.1,762.4 300.1,762.4 288,771.2 292.6,785.4 280.5,776.6 268.4,785.4 273,771.2 260.9,762.4 275.9,762.4" fill="#fff" stroke="#ff00ff" stroke-width="9" stroke-miterlimit="2"/><polygon points="316,753.1 320.6,767.4 335.6,767.4 323.5,776.2 328.1,790.4 316,781.6 303.9,790.4 308.5,776.2 296.4,767.4 311.4,767.4" fill="#fff" stroke="#ff00ff" stroke-width="9" stroke-miterlimit="2"/><polygon points="341,750.4 345.6,764.6 360.6,764.6 348.5,773.4 353.1,787.7 341,778.9 328.9,787.7 333.5,773.4 321.4,764.6 336.4,764.6" fill="#fff" stroke="#ff00ff" stroke-width="9" stroke-miterlimit="2"/><polygon points="374,746.9 378.6,761.1 393.6,761.1 381.5,769.9 386.1,784.2 374,775.4 361.9,784.2 366.5,769.9 354.4,761.1 369.4,761.1" fill="#fff" stroke="#ff00ff" stroke-width="9" stroke-miterlimit="2"/><polygon points="415,748.1 419.6,762.4 434.6,762.4 422.5,771.2 427.1,785.4 415,776.6 402.9,785.4 407.5,771.2 395.4,762.4 410.4,762.4" fill="#fff" stroke="#ff00ff" stroke-width="9" stroke-miterlimit="2"/><polygon points="444,745.4 448.6,759.6 463.6,759.6 451.5,768.4 456.1,782.7 444,773.9 431.9,782.7 436.5,768.4 424.4,759.6 439.4,759.6" fill="#fff" stroke="#ff00ff" stroke-width="9" stroke-miterlimit="2"/><polygon points="480,746.9 484.6,761.1 499.6,761.1 487.5,769.9 492.1,784.2 480,775.4 467.9,784.2 472.5,769.9 460.4,761.1 475.4,761.1" fill="#fff" stroke="#ff00ff" stroke-width="9" stroke-miterlimit="2"/><polygon points="514,748.1 518.6,762.4 533.6,762.4 521.5,771.2 526.1,785.4 514,776.6 501.9,785.4 506.5,771.2 494.4,762.4 509.4,762.4" fill="#fff" stroke="#ff00ff" stroke-width="9" stroke-miterlimit="2"/><polygon points="547.5,745.4 552.1,759.6 567.1,759.6 555,768.4 559.6,782.7 547.5,773.9 535.4,782.7 540,768.4 527.9,759.6 542.9,759.6" fill="#fff" stroke="#ff00ff" stroke-width="9" stroke-miterlimit="2"/><polygon points="584,748.1 588.6,762.4 603.6,762.4 591.5,771.2 596.1,785.4 584,776.6 571.9,785.4 576.5,771.2 564.4,762.4 579.4,762.4" fill="#fff" stroke="#ff00ff" stroke-width="9" stroke-miterlimit="2"/><polygon points="620,750.4 624.6,764.6 639.6,764.6 627.5,773.4 632.1,787.7 620,778.9 607.9,787.7 612.5,773.4 600.4,764.6 615.4,764.6" fill="#fff" stroke="#ff00ff" stroke-width="9" stroke-miterlimit="2"/><polygon points="652.5,754.4 657.1,768.6 672.1,768.6 660,777.4 664.6,791.7 652.5,782.9 640.4,791.7 645,777.4 632.9,768.6 647.9,768.6" fill="#fff" stroke="#ff00ff" stroke-width="9" stroke-miterlimit="2"/><polygon points="687.5,758.4 692.1,772.6 707.1,772.6 695,781.4 699.6,795.7 687.5,786.9 675.4,795.7 680,781.4 667.9,772.6 682.9,772.6" fill="#fff" stroke="#ff00ff" stroke-width="9" stroke-miterlimit="2"/><polygon points="719.2,760.6 723.9,774.9 738.8,774.9 726.7,783.7 731.4,797.9 719.2,789.1 707.1,797.9 711.8,783.7 699.7,774.9 714.6,774.9" fill="#fff" stroke="#ff00ff" stroke-width="9" stroke-miterlimit="2"/><polygon points="758,765.6 762.6,779.9 777.6,779.9 765.5,788.7 770.1,802.9 758,794.1 745.9,802.9 750.5,788.7 738.4,779.9 753.4,779.9" fill="#fff" stroke="#ff00ff" stroke-width="9" stroke-miterlimit="2"/><polygon points="788.5,769.4 793.1,783.6 808.1,783.6 796,792.4 800.6,806.7 788.5,797.9 776.4,806.7 781,792.4 768.9,783.6 783.9,783.6" fill="#fff" stroke="#ff00ff" stroke-width="9" stroke-miterlimit="2"/><polygon points="826.8,776.9 831.4,791.1 846.3,791.1 834.2,799.9 838.9,814.2 826.8,805.4 814.6,814.2 819.3,799.9 807.2,791.1 822.1,791.1" fill="#fff" stroke="#ff00ff" stroke-width="9" stroke-miterlimit="2"/><polygon points="859.2,783.1 863.9,797.4 878.8,797.4 866.7,806.2 871.4,820.4 859.2,811.6 847.1,820.4 851.8,806.2 839.7,797.4 854.6,797.4" fill="#fff" stroke="#ff00ff" stroke-width="9" stroke-miterlimit="2"/><polygon points="893.8,790.6 898.4,804.9 913.3,804.9 901.2,813.7 905.9,827.9 893.8,819.1 881.6,827.9 886.3,813.7 874.2,804.9 889.1,804.9" fill="#fff" stroke="#ff00ff" stroke-width="9" stroke-miterlimit="2"/><polygon points="928,797.6 932.6,811.9 947.6,811.9 935.5,820.7 940.1,834.9 928,826.1 915.9,834.9 920.5,820.7 908.4,811.9 923.4,811.9" fill="#fff" stroke="#ff00ff" stroke-width="9" stroke-miterlimit="2"/><polygon points="962.5,806.9 967.1,821.1 982.1,821.1 970,829.9 974.6,844.2 962.5,835.4 950.4,844.2 955,829.9 942.9,821.1 957.9,821.1" fill="#fff" stroke="#ff00ff" stroke-width="9" stroke-miterlimit="2"/><polygon points="996.8,815.6 1001.4,829.9 1016.3,829.9 1004.2,838.7 1008.9,852.9 996.8,844.1 984.6,852.9 989.3,838.7 977.2,829.9 992.1,829.9" fill="#fff" stroke="#ff00ff" stroke-width="9" stroke-miterlimit="2"/><polygon points="1030.5,825.6 1035.1,839.9 1050.1,839.9 1038,848.7 1042.6,862.9 1030.5,854.1 1018.4,862.9 1023,848.7 1010.9,839.9 1025.9,839.9" fill="#fff" stroke="#ff00ff" stroke-width="9" stroke-miterlimit="2"/><polygon points="1064.2,836.9 1068.9,851.1 1083.8,851.1 1071.7,859.9 1076.4,874.2 1064.2,865.4 1052.1,874.2 1056.8,859.9 1044.7,851.1 1059.6,851.1" fill="#fff" stroke="#ff00ff" stroke-width="9" stroke-miterlimit="2"/><polygon points="1097.2,846.9 1101.9,861.1 1116.8,861.1 1104.7,869.9 1109.4,884.2 1097.2,875.4 1085.1,884.2 1089.8,869.9 1077.7,861.1 1092.6,861.1" fill="#fff" stroke="#ff00ff" stroke-width="9" stroke-miterlimit="2"/><polygon points="1130.5,859.4 1135.1,873.6 1150.1,873.6 1138,882.4 1142.6,896.7 1130.5,887.9 1118.4,896.7 1123,882.4 1110.9,873.6 1125.9,873.6" fill="#fff" stroke="#ff00ff" stroke-width="9" stroke-miterlimit="2"/><polygon points="1163.8,871.9 1168.4,886.1 1183.3,886.1 1171.2,894.9 1175.9,909.2 1163.8,900.4 1151.6,909.2 1156.3,894.9 1144.2,886.1 1159.1,886.1" fill="#fff" stroke="#ff00ff" stroke-width="9" stroke-miterlimit="2"/><polygon points="1196.8,884.4 1201.4,898.6 1216.3,898.6 1204.2,907.4 1208.9,921.7 1196.8,912.9 1184.6,921.7 1189.3,907.4 1177.2,898.6 1192.1,898.6" fill="#fff" stroke="#ff00ff" stroke-width="9" stroke-miterlimit="2"/><polygon points="1229.8,895.9 1234.4,910.1 1249.3,910.1 1237.2,918.9 1241.9,933.2 1229.8,924.4 1217.6,933.2 1222.3,918.9 1210.2,910.1 1225.1,910.1" fill="#fff" stroke="#ff00ff" stroke-width="9" stroke-miterlimit="2"/><polygon points="1262.8,908.4 1267.4,922.6 1282.3,922.6 1270.2,931.4 1274.9,945.7 1262.8,936.9 1250.6,945.7 1255.3,931.4 1243.2,922.6 1258.1,922.6" fill="#fff" stroke="#ff00ff" stroke-width="9" stroke-miterlimit="2"/><polygon points="1296,919.6 1300.6,933.9 1315.6,933.9 1303.5,942.7 1308.1,956.9 1296,948.1 1283.9,956.9 1288.5,942.7 1276.4,933.9 1291.4,933.9" fill="#fff" stroke="#ff00ff" stroke-width="9" stroke-miterlimit="2"/><polygon points="1329.2,930.9 1333.9,945.1 1348.8,945.1 1336.7,953.9 1341.4,968.2 1329.2,959.4 1317.1,968.2 1321.8,953.9 1309.7,945.1 1324.6,945.1" fill="#fff" stroke="#ff00ff" stroke-width="9" stroke-miterlimit="2"/><polygon points="1362.8,940.4 1367.4,954.6 1382.3,954.6 1370.2,963.4 1374.9,977.7 1362.8,968.9 1350.6,977.7 1355.3,963.4 1343.2,954.6 1358.1,954.6" fill="#fff" stroke="#ff00ff" stroke-width="9" stroke-miterlimit="2"/><polygon points="1396,950.9 1400.6,965.1 1415.6,965.1 1403.5,973.9 1408.1,988.2 1396,979.4 1383.9,988.2 1388.5,973.9 1376.4,965.1 1391.4,965.1" fill="#fff" stroke="#ff00ff" stroke-width="9" stroke-miterlimit="2"/><polygon points="1429.2,960.9 1433.9,975.1 1448.8,975.1 1436.7,983.9 1441.4,998.2 1429.2,989.4 1417.1,998.2 1421.8,983.9 1409.7,975.1 1424.6,975.1" fill="#fff" stroke="#ff00ff" stroke-width="9" stroke-miterlimit="2"/><polygon points="1463.5,970.9 1468.1,985.1 1483.1,985.1 1471,993.9 1475.6,1008.2 1463.5,999.4 1451.4,1008.2 1456,993.9 1443.9,985.1 1458.9,985.1" fill="#fff" stroke="#ff00ff" stroke-width="9" stroke-miterlimit="2"/><polygon points="1496.8,982.1 1501.4,996.4 1516.3,996.4 1504.2,1005.2 1508.9,1019.4 1496.8,1010.6 1484.6,1019.4 1489.3,1005.2 1477.2,996.4 1492.1,996.4" fill="#fff" stroke="#ff00ff" stroke-width="9" stroke-miterlimit="2"/><polygon points="1530.5,994.6 1535.1,1008.9 1550.1,1008.9 1538,1017.7 1542.6,1031.9 1530.5,1023.1 1518.4,1031.9 1523,1017.7 1510.9,1008.9 1525.9,1008.9" fill="#fff" stroke="#ff00ff" stroke-width="9" stroke-miterlimit="2"/><polygon points="1564.2,1008.9 1568.9,1023.1 1583.8,1023.1 1571.7,1031.9 1576.4,1046.2 1564.2,1037.4 1552.1,1046.2 1556.8,1031.9 1544.7,1023.1 1559.6,1023.1" fill="#fff" stroke="#ff00ff" stroke-width="9" stroke-miterlimit="2"/><polygon points="1598,1024.4 1602.6,1038.6 1617.6,1038.6 1605.5,1047.4 1610.1,1061.7 1598,1052.9 1585.9,1061.7 1590.5,1047.4 1578.4,1038.6 1593.4,1038.6" fill="#fff" stroke="#ff00ff" stroke-width="9" stroke-miterlimit="2"/><polygon points="1631.5,1039.4 1636.1,1053.6 1651.1,1053.6 1639,1062.4 1643.6,1076.7 1631.5,1067.9 1619.4,1076.7 1624,1062.4 1611.9,1053.6 1626.9,1053.6" fill="#fff" stroke="#ff00ff" stroke-width="9" stroke-miterlimit="2"/><polygon points="1665.2,1055.4 1669.9,1069.6 1684.8,1069.6 1672.7,1078.4 1677.4,1092.7 1665.2,1083.9 1653.1,1092.7 1657.8,1078.4 1645.7,1069.6 1660.6,1069.6" fill="#fff" stroke="#ff00ff" stroke-width="9" stroke-miterlimit="2"/><polygon points="1699.2,1070.9 1703.9,1085.1 1718.8,1085.1 1706.7,1093.9 1711.4,1108.2 1699.2,1099.4 1687.1,1108.2 1691.8,1093.9 1679.7,1085.1 1694.6,1085.1" fill="#fff" stroke="#ff00ff" stroke-width="9" stroke-miterlimit="2"/><polygon points="1733.2,1086.9 1737.9,1101.1 1752.8,1101.1 1740.7,1109.9 1745.4,1124.2 1733.2,1115.4 1721.1,1124.2 1725.8,1109.9 1713.7,1101.1 1728.6,1101.1" fill="#fff" stroke="#ff00ff" stroke-width="9" stroke-miterlimit="2"/><polygon points="1767,1105.7 1771.6,1119.9 1786.6,1119.9 1774.5,1128.7 1779.1,1142.9 1767,1134.1 1754.9,1142.9 1759.5,1128.7 1747.4,1119.9 1762.4,1119.9" fill="#fff" stroke="#ff00ff" stroke-width="9" stroke-miterlimit="2"/><polygon points="1800.8,1121.4 1805.4,1135.6 1820.3,1135.6 1808.2,1144.4 1812.9,1158.7 1800.8,1149.9 1788.6,1158.7 1793.3,1144.4 1781.2,1135.6 1796.1,1135.6" fill="#fff" stroke="#ff00ff" stroke-width="9" stroke-miterlimit="2"/><polygon points="1834.5,1138.9 1839.1,1153.1 1854.1,1153.1 1842,1161.9 1846.6,1176.2 1834.5,1167.4 1822.4,1176.2 1827,1161.9 1814.9,1153.1 1829.9,1153.1" fill="#fff" stroke="#ff00ff" stroke-width="9" stroke-miterlimit="2"/><polygon points="1868.2,1154.9 1872.9,1169.1 1887.8,1169.1 1875.7,1177.9 1880.4,1192.2 1868.2,1183.4 1856.1,1192.2 1860.8,1177.9 1848.7,1169.1 1863.6,1169.1" fill="#fff" stroke="#ff00ff" stroke-width="9" stroke-miterlimit="2"/><polygon points="1902,1171.9 1906.6,1186.1 1921.6,1186.1 1909.5,1194.9 1914.1,1209.2 1902,1200.4 1889.9,1209.2 1894.5,1194.9 1882.4,1186.1 1897.4,1186.1" fill="#fff" stroke="#ff00ff" stroke-width="9" stroke-miterlimit="2"/></g>
</g>
<g>
<polygon points="403.5,986.5 426.9,1027 380.1,1027" fill="#000000"/><polygon points="637,986.5 660.4,1027 613.6,1027" fill="#000000"/><polygon points="637,1000.8 648,1019.8 626,1019.8" fill="#fff"/>
<polygon points="377.2,1142 418.9,1117.9 418.9,1166.1" fill="#800000"/><polygon points="610.7,1142 652.4,1117.9 652.4,1166.1" fill="#800000"/><polygon points="624.6,1142 645.5,1130 645.5,1154" fill="#fff"/>
<polygon points="403.5,1248.5 422.6,1259.5 422.6,1281.5 403.5,1292.5 384.4,1281.5 384.4,1259.5" fill="#0000ff"/><polygon points="637,1248.5 656.1,1259.5 656.1,1281.5 637,1292.5 617.9,1281.5 617.9,1259.5" fill="#0000ff"/><polygon points="637,1258.2 647.7,1264.3 647.7,1276.7 637,1282.8 626.3,1276.7 626.3,1264.3" fill="#fff"/>
<polygon points="403.5,1377.2 408.1,1391.4 423.1,1391.4 411,1400.2 415.6,1414.5 403.5,1405.7 391.4,1414.5 396,1400.2 383.9,1391.4 398.9,1391.4" fill="#ff00ff" stroke="#ff00ff" stroke-width="9" stroke-miterlimit="2"/><polygon points="637,1377.2 641.6,1391.4 656.6,1391.4 644.5,1400.2 649.1,1414.5 637,1405.7 624.9,1414.5 629.5,1400.2 617.4,1391.4 632.4,1391.4" fill="#fff" stroke="#ff00ff" stroke-width="9" stroke-miterlimit="2"/>
<polygon points="386.2,1510.2 420.8,1510.2 420.8,1544.8 386.2,1544.8" fill="#008000"/><polygon points="619.7,1510.2 654.3,1510.2 654.3,1544.8 619.7,1544.8" fill="#008000"/><polygon points="628.5,1519 645.5,1519 645.5,1536 628.5,1536" fill="#fff"/>
</g>
<g>
<text transform="translate(11.9 87.3) scale(0.94 1)" font-size="110" class="i">G</text>
<text x="83" y="101" font-size="130" class="i">′</text>
<text x="108" y="87.3" font-size="105">,</text>
<text transform="translate(160.2 87.3) scale(0.94 1)" font-size="110" class="i">G</text>
<text transform="translate(234.8 101) scale(0.86 1)" font-size="130" class="i">″</text>
<text x="278" y="87.3" font-size="105">,</text>
<text transform="translate(327 87.3) scale(1.03 1)" font-size="105">Pa</text>
<text x="15.8" y="257.3" font-size="105">10<tspan font-size="72" dx="-1" dy="-42.4">7</tspan></text>
<text x="15.8" y="609.1" font-size="105">10<tspan font-size="72" dx="-1" dy="-42.4">5</tspan></text>
<text x="15.8" y="960.9" font-size="105">10<tspan font-size="72" dx="-1" dy="-42.4">3</tspan></text>
<text x="51.2" y="1305.3" font-size="105">10</text>
<text x="-7.9" y="1664" font-size="105">10<tspan font-size="72" dy="-41.8">-1</tspan></text>
<text x="117" y="1758.3" font-size="105">0.01</text>
<text x="859.5" y="1758.3" font-size="105">1</text>
<text x="1485.5" y="1758.3" font-size="105">100</text>
<text transform="translate(1815.8 1745.7) scale(1.15 1)" font-size="105" class="i">γ</text>
<text x="1851.5" y="1745.7" font-size="105">,</text>
<text transform="translate(1904 1747.5) scale(1 1.05)" font-size="105">%</text>
<text transform="translate(366.2 921.4) scale(0.94 1)" font-size="110" class="i">G</text>
<text x="438.2" y="932.2" font-size="130" class="i">′</text>
<text transform="translate(591.4 921.4) scale(0.94 1)" font-size="110" class="i">G</text>
<text transform="translate(665.8 932.2) scale(0.86 1)" font-size="130" class="i">″</text>
<text x="779" y="1047.5" font-size="105">1</text>
<text x="779" y="1176" font-size="105">2</text>
<text x="779" y="1304.5" font-size="105">4</text>
<text x="779" y="1433.5" font-size="105">7</text>
<text x="779" y="1561.5" font-size="105">8</text>
</g>
</svg>
</body></html>
